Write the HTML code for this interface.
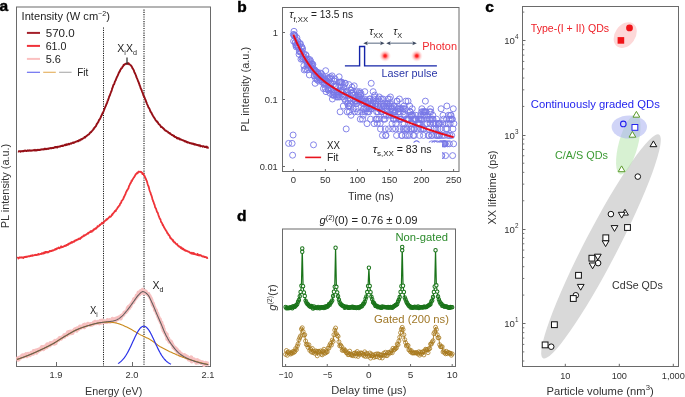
<!DOCTYPE html>
<html><head><meta charset="utf-8"><style>
html,body{margin:0;padding:0;background:#fff;}
svg{display:block;font-family:"Liberation Sans", sans-serif;will-change:transform;}
</style></head><body>
<svg width="685" height="397" viewBox="0 0 685 397">
<rect width="685" height="397" fill="#fff"/>
<text x="-0.5" y="11.2" font-size="15.5" fill="#000" font-weight="bold" stroke="#000" stroke-width="0.45">a</text>
<text x="237.2" y="11.6" font-size="15.5" fill="#000" font-weight="bold" stroke="#000" stroke-width="0.45">b</text>
<text x="485.2" y="11.5" font-size="15.5" fill="#000" font-weight="bold" stroke="#000" stroke-width="0.45">c</text>
<text x="237" y="221.2" font-size="15.5" fill="#000" font-weight="bold" stroke="#000" stroke-width="0.45">d</text>
<rect x="16.5" y="7" width="194" height="359.5" fill="none" stroke="#6a6a6a" stroke-width="1"/>
<line x1="103.5" y1="27.5" x2="103.5" y2="366" stroke="#111" stroke-width="1" stroke-dasharray="1.15,1.15"/>
<line x1="144" y1="9.5" x2="144" y2="366" stroke="#111" stroke-width="1.1" stroke-dasharray="1.15,1.15"/>
<line x1="56.5" y1="366" x2="56.5" y2="362" stroke="#6a6a6a" stroke-width="1"/>
<line x1="132.5" y1="366" x2="132.5" y2="362" stroke="#6a6a6a" stroke-width="1"/>
<text x="56" y="378.3" font-size="9.3" fill="#333" text-anchor="middle" >1.9</text>
<text x="132" y="378.3" font-size="9.3" fill="#333" text-anchor="middle" >2.0</text>
<text x="208" y="378.3" font-size="9.3" fill="#333" text-anchor="middle" >2.1</text>
<text x="85" y="394.7" font-size="10" fill="#333" textLength="57.3" lengthAdjust="spacingAndGlyphs" >Energy (eV)</text>
<text transform="translate(8.7,186) rotate(-90)" font-size="10" fill="#333" text-anchor="middle" textLength="84.4" lengthAdjust="spacingAndGlyphs">PL intensity (a.u.)</text>
<text x="21.6" y="19.5" font-size="10.3" fill="#222" textLength="88.3" lengthAdjust="spacingAndGlyphs" >Intensity (W cm<tspan font-size="6.5" dy="-3.5">−2</tspan><tspan dy="3.5">)</tspan></text>
<line x1="26.9" y1="32.9" x2="40" y2="32.9" stroke="#a4202a" stroke-width="2"/>
<line x1="26.9" y1="45.9" x2="40" y2="45.9" stroke="#f0323a" stroke-width="2"/>
<line x1="26.9" y1="58.9" x2="40" y2="58.9" stroke="#fbc0c0" stroke-width="2"/>
<text x="45.7" y="36.7" font-size="10.3" fill="#222" textLength="29" lengthAdjust="spacingAndGlyphs" >570.0</text>
<text x="45.7" y="49.8" font-size="10.3" fill="#222" textLength="20.7" lengthAdjust="spacingAndGlyphs" >61.0</text>
<text x="45.7" y="62.8" font-size="10.3" fill="#222" textLength="15.3" lengthAdjust="spacingAndGlyphs" >5.6</text>
<line x1="26.9" y1="72.3" x2="40" y2="72.3" stroke="#6c70f0" stroke-width="1.2"/>
<line x1="43.2" y1="72.3" x2="55.8" y2="72.3" stroke="#e6b466" stroke-width="1.2"/>
<line x1="59.1" y1="72.3" x2="71.6" y2="72.3" stroke="#b2b2b2" stroke-width="1.2"/>
<text x="77.2" y="76.2" font-size="10.3" fill="#222" textLength="11.1" lengthAdjust="spacingAndGlyphs" >Fit</text>
<path d="M17.9,151.48 L18.28,151.53 L18.66,151.36 L19.05,151.19 L19.43,151.27 L19.81,151.12 L20.19,151.36 L20.57,151.65 L20.95,151.17 L21.34,151.11 L21.72,151.37 L22.1,151.31 L22.48,151.22 L22.86,150.94 L23.24,151.14 L23.63,151.3 L24.01,150.76 L24.39,150.96 L24.77,150.57 L25.15,150.7 L25.54,150.53 L25.92,150.91 L26.3,150.62 L26.68,150.98 L27.06,150.93 L27.44,150.81 L27.83,150.2 L28.21,150.67 L28.59,150.76 L28.97,150.77 L29.35,150.33 L29.73,150.57 L30.12,150.41 L30.5,150.42 L30.88,150.86 L31.26,150.36 L31.64,150.52 L32.03,150.72 L32.41,150.32 L32.79,150.41 L33.17,150.43 L33.55,150.38 L33.93,150.03 L34.32,150.32 L34.7,150.6 L35.08,149.84 L35.46,150.41 L35.84,150.18 L36.22,149.96 L36.61,150.58 L36.99,150.23 L37.37,149.7 L37.75,149.98 L38.13,150.07 L38.52,149.83 L38.9,150.01 L39.28,149.78 L39.66,149.92 L40.04,150.07 L40.42,149.5 L40.81,149.68 L41.19,149.47 L41.57,149.57 L41.95,149.19 L42.33,149.3 L42.71,149.35 L43.1,149.57 L43.48,149.59 L43.86,148.92 L44.24,149 L44.62,149.31 L45.01,148.6 L45.39,148.93 L45.77,148.97 L46.15,149.26 L46.53,149.06 L46.91,148.75 L47.3,148.69 L47.68,148.66 L48.06,149.04 L48.44,148.5 L48.82,148.47 L49.2,148.58 L49.59,148.4 L49.97,148.32 L50.35,148.03 L50.73,148.24 L51.11,148.07 L51.5,148.4 L51.88,148.21 L52.26,147.97 L52.64,148.08 L53.02,147.76 L53.4,148.04 L53.79,147.71 L54.17,147.78 L54.55,147.24 L54.93,147.58 L55.31,147 L55.69,146.84 L56.08,147.19 L56.46,146.97 L56.84,147.16 L57.22,147.6 L57.6,146.75 L57.99,146.72 L58.37,146.85 L58.75,146.84 L59.13,146.59 L59.51,146.49 L59.89,146.64 L60.28,146.5 L60.66,146.03 L61.04,146.18 L61.42,146.12 L61.8,145.75 L62.18,145.99 L62.57,145.62 L62.95,145.98 L63.33,145.69 L63.71,145.57 L64.09,145.3 L64.48,145.32 L64.86,144.75 L65.24,144.87 L65.62,145.14 L66,144.41 L66.38,145.05 L66.77,144.3 L67.15,144.82 L67.53,144.31 L67.91,144.61 L68.29,144.33 L68.67,143.8 L69.06,144.39 L69.44,144.32 L69.82,143.83 L70.2,143.66 L70.58,143.57 L70.97,143.25 L71.35,143.65 L71.73,143.11 L72.11,143.11 L72.49,142.8 L72.87,142.72 L73.26,142.43 L73.64,142.93 L74.02,142.45 L74.4,142.6 L74.78,142.23 L75.16,141.92 L75.55,141.87 L75.93,141.67 L76.31,141.67 L76.69,141.43 L77.07,141.3 L77.46,140.87 L77.84,140.86 L78.22,141.32 L78.6,140.57 L78.98,140.31 L79.36,140.48 L79.75,140.57 L80.13,139.68 L80.51,139.8 L80.89,139.5 L81.27,139.02 L81.65,139.44 L82.04,139.04 L82.42,138.85 L82.8,138.43 L83.18,138.5 L83.56,138.02 L83.95,137.87 L84.33,137.38 L84.71,137.1 L85.09,137.48 L85.47,136.74 L85.85,136.67 L86.24,136.3 L86.62,135.9 L87,135.58 L87.38,135.55 L87.76,135 L88.14,134.7 L88.53,134.41 L88.91,134.35 L89.29,133.86 L89.67,133.42 L90.05,132.8 L90.44,132.21 L90.82,132.39 L91.2,131.98 L91.58,131.28 L91.96,131.02 L92.34,130.64 L92.73,130.19 L93.11,129.75 L93.49,128.92 L93.87,128.92 L94.25,127.72 L94.63,127.73 L95.02,127.11 L95.4,126.66 L95.78,126.36 L96.16,125.69 L96.54,124.44 L96.93,123.71 L97.31,123.72 L97.69,122.64 L98.07,122.25 L98.45,121.8 L98.83,120.51 L99.22,119.71 L99.6,119.6 L99.98,118.83 L100.36,118.02 L100.74,117.34 L101.12,116.35 L101.51,115.41 L101.89,114.94 L102.27,113.93 L102.65,112.93 L103.03,112.62 L103.42,111.61 L103.8,110.84 L104.18,109.59 L104.56,108.76 L104.94,107.74 L105.32,106.82 L105.71,106.14 L106.09,104.93 L106.47,104.23 L106.85,103.24 L107.23,102.67 L107.61,100.81 L108,100.37 L108.38,99.11 L108.76,98.11 L109.14,96.73 L109.52,95.95 L109.91,95.23 L110.29,93.99 L110.67,93.01 L111.05,91.89 L111.43,91.23 L111.81,89.91 L112.2,88.35 L112.58,87.72 L112.96,86.4 L113.34,85.09 L113.72,84.78 L114.1,84.27 L114.49,82.98 L114.87,81.72 L115.25,80.83 L115.63,80.42 L116.01,79.26 L116.39,78.34 L116.78,77.43 L117.16,76.58 L117.54,75.93 L117.92,75.04 L118.3,74.15 L118.69,73.04 L119.07,72.67 L119.45,71.63 L119.83,71.36 L120.21,70.07 L120.59,69.69 L120.98,69.09 L121.36,68.15 L121.74,68.33 L122.12,67.71 L122.5,66.72 L122.88,66.54 L123.27,65.99 L123.65,64.82 L124.03,65.15 L124.41,64.73 L124.79,64.45 L125.18,63.89 L125.56,63.86 L125.94,63.69 L126.32,63.89 L126.7,63.57 L127.08,63.42 L127.47,63.79 L127.85,63.29 L128.23,63.41 L128.61,63.18 L128.99,64.2 L129.37,64.27 L129.76,64.54 L130.14,64.8 L130.52,65.04 L130.9,65.5 L131.28,65.88 L131.67,66.44 L132.05,67.11 L132.43,68.13 L132.81,68.61 L133.19,69.21 L133.57,69.88 L133.96,70.71 L134.34,72.13 L134.72,72.76 L135.1,73.57 L135.48,74.41 L135.86,75.18 L136.25,76.4 L136.63,77.61 L137.01,78.27 L137.39,79.29 L137.77,80.28 L138.16,81.35 L138.54,81.92 L138.92,83.25 L139.3,84.09 L139.68,85.52 L140.06,86.1 L140.45,87.43 L140.83,88.66 L141.21,89.19 L141.59,90.1 L141.97,91.29 L142.35,92.22 L142.74,92.95 L143.12,94.29 L143.5,95.64 L143.88,96.04 L144.26,97 L144.65,97.74 L145.03,99.02 L145.41,99.56 L145.79,100.52 L146.17,102.03 L146.55,102.39 L146.94,103.78 L147.32,104.77 L147.7,105.32 L148.08,106.26 L148.46,107.45 L148.84,107.74 L149.23,108.46 L149.61,109.07 L149.99,110.21 L150.37,111.34 L150.75,111.96 L151.14,112.22 L151.52,112.97 L151.9,113.76 L152.28,114.64 L152.66,115.18 L153.04,115.94 L153.43,116.6 L153.81,117.07 L154.19,117.74 L154.57,118.39 L154.95,118.9 L155.33,119.6 L155.72,120.49 L156.1,120.71 L156.48,121.09 L156.86,121.17 L157.24,122.18 L157.63,122.08 L158.01,122.68 L158.39,123.71 L158.77,124.12 L159.15,124.34 L159.53,124.38 L159.92,125.13 L160.3,125.46 L160.68,126.19 L161.06,126.98 L161.44,126.85 L161.82,126.97 L162.21,127.23 L162.59,127.86 L162.97,128.18 L163.35,128.27 L163.73,128.92 L164.12,128.93 L164.5,129.81 L164.88,130.11 L165.26,130.43 L165.64,130.34 L166.02,130.88 L166.41,131.01 L166.79,131.24 L167.17,131.53 L167.55,131.57 L167.93,131.81 L168.31,132.65 L168.7,132.67 L169.08,133.04 L169.46,133.49 L169.84,133.07 L170.22,133.56 L170.61,134.05 L170.99,134.35 L171.37,134.41 L171.75,135 L172.13,135.03 L172.51,134.91 L172.9,135.21 L173.28,135.88 L173.66,136.02 L174.04,135.65 L174.42,136.68 L174.8,136.7 L175.19,137.1 L175.57,136.88 L175.95,137.11 L176.33,137.11 L176.71,138.22 L177.1,137.74 L177.48,138.38 L177.86,138.01 L178.24,138.4 L178.62,138.13 L179,138.64 L179.39,139.16 L179.77,138.78 L180.15,139.54 L180.53,139.53 L180.91,139.35 L181.29,139.66 L181.68,139.83 L182.06,140.1 L182.44,140.14 L182.82,140.23 L183.2,140.51 L183.59,140.49 L183.97,140.57 L184.35,141.04 L184.73,141.42 L185.11,140.96 L185.49,141.49 L185.88,141.46 L186.26,141.52 L186.64,142.12 L187.02,141.91 L187.4,142.55 L187.78,142.11 L188.17,142.53 L188.55,142.51 L188.93,142.5 L189.31,142.96 L189.69,142.9 L190.08,143.21 L190.46,143.17 L190.84,143.02 L191.22,143.39 L191.6,143.54 L191.98,143.88 L192.37,143.53 L192.75,143.85 L193.13,143.54 L193.51,144.24 L193.89,143.92 L194.27,143.84 L194.66,144.38 L195.04,144.78 L195.42,144.22 L195.8,144.43 L196.18,144.61 L196.57,144.62 L196.95,145.09 L197.33,144.89 L197.71,145.01 L198.09,145.43 L198.47,145.19 L198.86,145.58 L199.24,145.32 L199.62,145.35 L200,145.28 L200.38,146.3 L200.76,145.84 L201.15,146.07 L201.53,146.09 L201.91,146.22 L202.29,146.28 L202.67,146.83 L203.06,146.18 L203.44,146.14 L203.82,146.36 L204.2,146.36 L204.58,146.97 L204.96,147.07 L205.35,146.71 L205.73,146.68 L206.11,147.02 L206.49,147.54 L206.87,146.57 L207.25,147.49 L207.64,147.17 L208.02,147.79 L208.4,147.34" fill="none" stroke="#960f16" stroke-width="1.9" stroke-linejoin="round"/>
<line x1="127" y1="57.4" x2="127" y2="64.5" stroke="#2a2a2a" stroke-width="1.2"/>
<text x="117.3" y="51.7" font-size="10.3" fill="#222" textLength="19.6" lengthAdjust="spacingAndGlyphs" >X<tspan font-size="7" dy="3.2">i</tspan><tspan dy="-3.2">X</tspan><tspan font-size="7" dy="3.2">d</tspan></text>
<path d="M17.3,258.04 L17.68,257.56 L18.06,257.71 L18.45,258.49 L18.83,258.24 L19.21,257.77 L19.59,257.56 L19.97,257.15 L20.35,257.63 L20.74,257.7 L21.12,257.63 L21.5,257.58 L21.88,257.17 L22.26,257.48 L22.64,257.44 L23.03,257.85 L23.41,258 L23.79,257.24 L24.17,256.96 L24.55,257.15 L24.94,256.9 L25.32,256.79 L25.7,256.97 L26.08,256.57 L26.46,257.08 L26.84,256.77 L27.23,256.83 L27.61,256.61 L27.99,256.36 L28.37,256.21 L28.75,256.39 L29.13,256.22 L29.52,256.42 L29.9,256.27 L30.28,255.72 L30.66,256.15 L31.04,255.58 L31.43,255.76 L31.81,255.8 L32.19,255.1 L32.57,255.79 L32.95,255.73 L33.33,255.54 L33.72,255.37 L34.1,255.31 L34.48,255.02 L34.86,255.18 L35.24,255 L35.62,255.14 L36.01,254.61 L36.39,255.02 L36.77,254.91 L37.15,254.72 L37.53,254.53 L37.92,254.78 L38.3,253.92 L38.68,254.57 L39.06,254.4 L39.44,254.32 L39.82,254.26 L40.21,253.81 L40.59,253.85 L40.97,254.06 L41.35,253.89 L41.73,253.72 L42.11,253.02 L42.5,253.63 L42.88,253.75 L43.26,253.59 L43.64,253.22 L44.02,252.49 L44.41,253.26 L44.79,252.77 L45.17,251.82 L45.55,252.73 L45.93,251.97 L46.31,251.93 L46.7,252.05 L47.08,252.6 L47.46,251.91 L47.84,252.02 L48.22,252.42 L48.6,252.25 L48.99,251.54 L49.37,251.37 L49.75,250.9 L50.13,250.97 L50.51,251.24 L50.9,251.11 L51.28,250.88 L51.66,251.07 L52.04,250.32 L52.42,250.45 L52.8,250.59 L53.19,250.41 L53.57,250.45 L53.95,250.08 L54.33,249.7 L54.71,249.8 L55.09,249.19 L55.48,248.83 L55.86,249.47 L56.24,249.11 L56.62,249.1 L57,248.25 L57.39,248.58 L57.77,248.35 L58.15,248.12 L58.53,247.48 L58.91,248.01 L59.29,248.29 L59.68,247.96 L60.06,247.47 L60.44,247.52 L60.82,247.64 L61.2,246.26 L61.58,247.03 L61.97,247.1 L62.35,247 L62.73,247.19 L63.11,246.84 L63.49,246.39 L63.88,246.22 L64.26,246.23 L64.64,245.6 L65.02,245.61 L65.4,245.78 L65.78,245.98 L66.17,245.07 L66.55,244.94 L66.93,244.85 L67.31,245.08 L67.69,244.43 L68.07,244.78 L68.46,243.75 L68.84,243.85 L69.22,243.66 L69.6,243.83 L69.98,243.74 L70.37,242.66 L70.75,242.69 L71.13,242.94 L71.51,242.41 L71.89,241.92 L72.27,242.63 L72.66,242.25 L73.04,242.05 L73.42,241.52 L73.8,241.86 L74.18,241.22 L74.56,241.49 L74.95,240.59 L75.33,240.41 L75.71,240.58 L76.09,240.07 L76.47,240.35 L76.86,240 L77.24,239.38 L77.62,239.52 L78,239.16 L78.38,239.4 L78.76,238.65 L79.15,238.5 L79.53,238.87 L79.91,239.02 L80.29,238.72 L80.67,237.82 L81.05,237.66 L81.44,237.9 L81.82,237.1 L82.2,236.58 L82.58,236.74 L82.96,236.63 L83.35,235.96 L83.73,235.44 L84.11,235.29 L84.49,235.79 L84.87,235.07 L85.25,235.05 L85.64,234.94 L86.02,234.85 L86.4,234.27 L86.78,234.33 L87.16,233.6 L87.54,233.55 L87.93,233.07 L88.31,233.58 L88.69,232.93 L89.07,232.44 L89.45,232.33 L89.84,232.12 L90.22,232.19 L90.6,231.14 L90.98,231.08 L91.36,231.06 L91.74,231.82 L92.13,231.01 L92.51,230.38 L92.89,230.4 L93.27,230.61 L93.65,229.55 L94.03,229.24 L94.42,229.52 L94.8,229 L95.18,228.8 L95.56,228.11 L95.94,228.69 L96.33,228.34 L96.71,227.67 L97.09,227.43 L97.47,226.21 L97.85,226.86 L98.23,226.29 L98.62,226.22 L99,226.03 L99.38,225.38 L99.76,224.63 L100.14,225.06 L100.52,224.38 L100.91,224.23 L101.29,223.84 L101.67,223.64 L102.05,222.66 L102.43,223.59 L102.82,222.96 L103.2,222.96 L103.58,222.96 L103.96,221.97 L104.34,221.03 L104.72,221.04 L105.11,220.62 L105.49,220.55 L105.87,220.44 L106.25,219.39 L106.63,219.89 L107.01,218.91 L107.4,219.21 L107.78,218.74 L108.16,218.33 L108.54,218.07 L108.92,217.55 L109.31,217.17 L109.69,216.44 L110.07,216.65 L110.45,216.94 L110.83,216.61 L111.21,215.99 L111.6,215.38 L111.98,214.5 L112.36,214.84 L112.74,213.9 L113.12,213.47 L113.5,212.96 L113.89,212.66 L114.27,212.03 L114.65,211.7 L115.03,210.88 L115.41,210.66 L115.79,211.1 L116.18,209.79 L116.56,209.22 L116.94,208.98 L117.32,208.52 L117.7,207.34 L118.09,207.11 L118.47,206.95 L118.85,206.15 L119.23,205.52 L119.61,205.43 L119.99,204.04 L120.38,203.69 L120.76,202.84 L121.14,202.9 L121.52,201.04 L121.9,200.81 L122.28,200.17 L122.67,199.89 L123.05,199.16 L123.43,198.7 L123.81,196.92 L124.19,196.97 L124.58,195.83 L124.96,194.92 L125.34,194.55 L125.72,193.24 L126.1,192.02 L126.48,191.81 L126.87,190.6 L127.25,190.07 L127.63,189.61 L128.01,188.77 L128.39,188.4 L128.77,186.96 L129.16,185.68 L129.54,185.16 L129.92,184.31 L130.3,183.42 L130.68,183.22 L131.07,182.09 L131.45,180.88 L131.83,181.08 L132.21,180.09 L132.59,179.56 L132.97,178.8 L133.36,178.33 L133.74,177.5 L134.12,177.31 L134.5,176.45 L134.88,175.89 L135.26,175.38 L135.65,174.24 L136.03,174.24 L136.41,173.78 L136.79,173.56 L137.17,172.66 L137.56,173.4 L137.94,172.59 L138.32,171.9 L138.7,171.55 L139.08,171.91 L139.46,171.89 L139.85,171.63 L140.23,171.92 L140.61,171.73 L140.99,172.27 L141.37,172 L141.75,172.48 L142.14,173.14 L142.52,174.06 L142.9,173.24 L143.28,173.92 L143.66,174.36 L144.05,175.56 L144.43,175.6 L144.81,176.6 L145.19,177.59 L145.57,178.15 L145.95,179.1 L146.34,180.26 L146.72,180.72 L147.1,182.02 L147.48,183.48 L147.86,184.81 L148.24,185.84 L148.63,186.46 L149.01,188.11 L149.39,189.74 L149.77,190.86 L150.15,191.83 L150.54,192.75 L150.92,194.46 L151.3,195.21 L151.68,196.17 L152.06,197.45 L152.44,199.37 L152.83,200.07 L153.21,201.51 L153.59,202.04 L153.97,203.62 L154.35,204.16 L154.73,205.38 L155.12,207.36 L155.5,207.79 L155.88,208.37 L156.26,209.53 L156.64,210.67 L157.03,211.96 L157.41,212.34 L157.79,212.86 L158.17,214.31 L158.55,215.35 L158.93,216.29 L159.32,217.62 L159.7,218.15 L160.08,219.2 L160.46,219.39 L160.84,220.92 L161.22,222.18 L161.61,222.53 L161.99,223.15 L162.37,223.89 L162.75,225.24 L163.13,225.04 L163.52,226.07 L163.9,227 L164.28,227.81 L164.66,228.1 L165.04,229.05 L165.42,229.52 L165.81,230.32 L166.19,230.88 L166.57,231.16 L166.95,232.18 L167.33,233.1 L167.71,233.06 L168.1,233.9 L168.48,234.79 L168.86,234.75 L169.24,235.74 L169.62,235.84 L170.01,237.14 L170.39,238.07 L170.77,238.47 L171.15,238.18 L171.53,239 L171.91,239.26 L172.3,239.71 L172.68,240.67 L173.06,240.11 L173.44,241.38 L173.82,241.41 L174.2,242.34 L174.59,242.31 L174.97,242.41 L175.35,243.12 L175.73,243.66 L176.11,243.78 L176.5,244.3 L176.88,244.29 L177.26,244.07 L177.64,245.47 L178.02,245.72 L178.4,245.84 L178.79,246.12 L179.17,246.76 L179.55,246.53 L179.93,246.73 L180.31,247.19 L180.69,247.95 L181.08,247.31 L181.46,248.47 L181.84,248.08 L182.22,248.16 L182.6,249.23 L182.99,248.98 L183.37,248.79 L183.75,249.34 L184.13,250 L184.51,250.3 L184.89,249.94 L185.28,250.43 L185.66,250.73 L186.04,250.44 L186.42,250.97 L186.8,251.02 L187.18,251.01 L187.57,251.2 L187.95,251.56 L188.33,251.71 L188.71,251.65 L189.09,251.86 L189.48,252.54 L189.86,252.38 L190.24,252.75 L190.62,253 L191,252.92 L191.38,253.65 L191.77,252.69 L192.15,253.39 L192.53,253.12 L192.91,254.01 L193.29,254.08 L193.67,252.92 L194.06,253.38 L194.44,254.07 L194.82,254.22 L195.2,254.32 L195.58,254.15 L195.97,254.44 L196.35,254.62 L196.73,254.47 L197.11,254.97 L197.49,253.93 L197.87,255.05 L198.26,254.57 L198.64,255.37 L199.02,255.07 L199.4,254.94 L199.78,255.49 L200.16,255.15 L200.55,255.26 L200.93,255.14 L201.31,255.79 L201.69,256.09 L202.07,256.39 L202.46,256.1 L202.84,256.63 L203.22,256.39 L203.6,256.47 L203.98,256.83 L204.36,257.12 L204.75,256.76 L205.13,256.92 L205.51,257.09 L205.89,257.31 L206.27,257.1 L206.65,257.92 L207.04,257.57 L207.42,258.02 L207.8,257.72" fill="none" stroke="#ef3338" stroke-width="1.8" stroke-linejoin="round"/>
<path d="M17,358.97 L17.38,358.87 L17.77,358.14 L18.15,359.84 L18.53,358.48 L18.92,359.4 L19.3,358.66 L19.68,357.31 L20.07,357.39 L20.45,357.87 L20.83,357.46 L21.21,357.32 L21.6,356.93 L21.98,355.65 L22.36,356.7 L22.75,355.07 L23.13,356.87 L23.51,355.91 L23.9,355.77 L24.28,356 L24.66,356.23 L25.05,354.81 L25.43,354.43 L25.81,354.79 L26.2,353.91 L26.58,354.57 L26.96,356.34 L27.35,354.21 L27.73,355.34 L28.11,353.67 L28.49,354.77 L28.88,354.15 L29.26,354.19 L29.64,354.51 L30.03,355.24 L30.41,353.91 L30.79,353.7 L31.18,352.71 L31.56,353.72 L31.94,352.93 L32.33,353.57 L32.71,352.75 L33.09,353.92 L33.48,350.96 L33.86,352.06 L34.24,352.78 L34.63,351.68 L35.01,351.18 L35.39,351.4 L35.78,350.4 L36.16,351.35 L36.54,352.91 L36.92,351.77 L37.31,349.9 L37.69,349.91 L38.07,350.08 L38.46,350.96 L38.84,349.42 L39.22,349.34 L39.61,350.34 L39.99,350.15 L40.37,349.04 L40.76,348.3 L41.14,347.8 L41.52,348.26 L41.91,346.93 L42.29,348.98 L42.67,347.77 L43.06,348.42 L43.44,349.28 L43.82,348.57 L44.2,346.64 L44.59,347.97 L44.97,348 L45.35,346.39 L45.74,346.05 L46.12,346.49 L46.5,345.18 L46.89,347.3 L47.27,344.2 L47.65,344.98 L48.04,345.42 L48.42,345.25 L48.8,345.35 L49.19,345.23 L49.57,344.67 L49.95,345.48 L50.34,342.83 L50.72,344.23 L51.1,343.49 L51.48,343.92 L51.87,343.78 L52.25,342.72 L52.63,342.71 L53.02,343.57 L53.4,343.02 L53.78,342.03 L54.17,343.85 L54.55,343.82 L54.93,340.77 L55.32,341.86 L55.7,343.28 L56.08,341.75 L56.47,341.09 L56.85,340.52 L57.23,340.03 L57.62,340.03 L58,339.53 L58.38,340.26 L58.77,339.15 L59.15,338.87 L59.53,338.06 L59.91,338.67 L60.3,337.79 L60.68,338.08 L61.06,338.75 L61.45,338 L61.83,337.86 L62.21,337.5 L62.6,337.04 L62.98,336.66 L63.36,336.29 L63.75,336.85 L64.13,335.24 L64.51,336.83 L64.9,335.62 L65.28,334.81 L65.66,334.78 L66.05,334.42 L66.43,334.82 L66.81,333.94 L67.19,335.11 L67.58,333.45 L67.96,332.1 L68.34,333.03 L68.73,331.85 L69.11,333.11 L69.49,333.71 L69.88,333.18 L70.26,331.47 L70.64,331.68 L71.03,333.36 L71.41,332.05 L71.79,331.6 L72.18,332.18 L72.56,333.01 L72.94,331.94 L73.33,330.86 L73.71,330.82 L74.09,330.81 L74.47,329.69 L74.86,329.16 L75.24,329.81 L75.62,328.87 L76.01,329.35 L76.39,329.28 L76.77,330.79 L77.16,328.23 L77.54,328.6 L77.92,328.41 L78.31,328.7 L78.69,329 L79.07,327.69 L79.46,327.29 L79.84,326.53 L80.22,326.92 L80.61,327.87 L80.99,327.36 L81.37,326.42 L81.76,326.76 L82.14,326.93 L82.52,327.15 L82.9,326.19 L83.29,326.32 L83.67,325.01 L84.05,325.38 L84.44,327.33 L84.82,324.35 L85.2,325.62 L85.59,325.91 L85.97,325.34 L86.35,324.9 L86.74,325.34 L87.12,325.26 L87.5,325.09 L87.89,323.62 L88.27,324.8 L88.65,324.16 L89.04,324.27 L89.42,324.74 L89.8,324.94 L90.18,325.02 L90.57,323.86 L90.95,324.81 L91.33,324.89 L91.72,324.75 L92.1,324.82 L92.48,323.56 L92.87,323.43 L93.25,324.07 L93.63,322.32 L94.02,323.4 L94.4,322.74 L94.78,322.76 L95.17,321.63 L95.55,322.18 L95.93,322.74 L96.32,323.33 L96.7,323.32 L97.08,322.44 L97.46,322.28 L97.85,321.73 L98.23,322.59 L98.61,322.03 L99,322.61 L99.38,323.4 L99.76,322.01 L100.15,320.85 L100.53,321.27 L100.91,320.76 L101.3,320.91 L101.68,322.73 L102.06,321.87 L102.45,320.51 L102.83,322.09 L103.21,322.49 L103.6,321.23 L103.98,320.94 L104.36,321.14 L104.75,321.56 L105.13,321.78 L105.51,322.13 L105.89,322.11 L106.28,322.05 L106.66,322.14 L107.04,321.58 L107.43,319.89 L107.81,320.91 L108.19,321.2 L108.58,320.64 L108.96,321.58 L109.34,320.58 L109.73,320.12 L110.11,321.85 L110.49,321.23 L110.88,320.84 L111.26,321.32 L111.64,321.37 L112.03,320.77 L112.41,318.61 L112.79,319.88 L113.17,319.96 L113.56,319.48 L113.94,320.26 L114.32,320.9 L114.71,319.52 L115.09,318.9 L115.47,321.14 L115.86,319.13 L116.24,318.39 L116.62,319.33 L117.01,319.31 L117.39,318.28 L117.77,319.21 L118.16,318.03 L118.54,317.47 L118.92,318.04 L119.31,318.21 L119.69,316.87 L120.07,317.3 L120.45,316.67 L120.84,318.54 L121.22,315.57 L121.6,316.81 L121.99,315.4 L122.37,314.99 L122.75,315.25 L123.14,314.99 L123.52,314.87 L123.9,313.75 L124.29,312.62 L124.67,312.22 L125.05,312.56 L125.44,312.15 L125.82,312.3 L126.2,311.1 L126.59,311.1 L126.97,310.97 L127.35,309.48 L127.74,307.77 L128.12,307.52 L128.5,306.84 L128.88,308.61 L129.27,306.27 L129.65,307.32 L130.03,306.31 L130.42,306.63 L130.8,305.56 L131.18,304.2 L131.57,303.59 L131.95,303.27 L132.33,302.8 L132.72,301.73 L133.1,301.57 L133.48,302.28 L133.87,299.27 L134.25,300.21 L134.63,298.79 L135.02,299.05 L135.4,298.97 L135.78,297.74 L136.16,297.8 L136.55,295.48 L136.93,296.98 L137.31,295.19 L137.7,295.64 L138.08,294.87 L138.46,292.4 L138.85,293.38 L139.23,293.71 L139.61,294.3 L140,292.95 L140.38,292.54 L140.76,290.93 L141.15,292.74 L141.53,292.74 L141.91,291.19 L142.3,290.84 L142.68,289.7 L143.06,291.57 L143.44,292.98 L143.83,291.6 L144.21,292.16 L144.59,291.8 L144.98,290.89 L145.36,292.89 L145.74,291.25 L146.13,292.32 L146.51,293.02 L146.89,293.81 L147.28,293.81 L147.66,294.15 L148.04,293.73 L148.43,293.87 L148.81,295.49 L149.19,295.59 L149.58,295.87 L149.96,296.68 L150.34,298.07 L150.73,297.87 L151.11,299.08 L151.49,299.7 L151.87,301.88 L152.26,302.85 L152.64,304.88 L153.02,303.12 L153.41,304.62 L153.79,306.73 L154.17,306.8 L154.56,307.66 L154.94,310.12 L155.32,309.53 L155.71,309.84 L156.09,310.64 L156.47,312.79 L156.86,313.66 L157.24,313.28 L157.62,314.46 L158.01,316.48 L158.39,317.39 L158.77,317.35 L159.15,319.18 L159.54,320.02 L159.92,319.14 L160.3,321.12 L160.69,322.55 L161.07,322.7 L161.45,322.43 L161.84,324.75 L162.22,326.46 L162.6,328.03 L162.99,326.15 L163.37,330.69 L163.75,328.82 L164.14,331.3 L164.52,332.39 L164.9,333.07 L165.29,333.27 L165.67,333.07 L166.05,335.17 L166.43,334.9 L166.82,334.28 L167.2,339.01 L167.58,338.12 L167.97,339.63 L168.35,338.25 L168.73,340.68 L169.12,341.4 L169.5,341.98 L169.88,341.39 L170.27,341.06 L170.65,342.38 L171.03,341.4 L171.42,342.3 L171.8,344.18 L172.18,343.89 L172.57,345.03 L172.95,345.58 L173.33,347.62 L173.72,347.64 L174.1,347.13 L174.48,348.55 L174.86,347.53 L175.25,348.33 L175.63,349.72 L176.01,348.55 L176.4,349.7 L176.78,349.34 L177.16,350.83 L177.55,352.36 L177.93,350.95 L178.31,352.06 L178.7,351.57 L179.08,351.72 L179.46,351.98 L179.85,354.3 L180.23,355.28 L180.61,354.14 L181,353.51 L181.38,354.83 L181.76,354.31 L182.14,355.41 L182.53,355.27 L182.91,355.5 L183.29,355.98 L183.68,355.32 L184.06,355.67 L184.44,354.9 L184.83,356.07 L185.21,355.55 L185.59,356.71 L185.98,356.3 L186.36,357.29 L186.74,357.74 L187.13,356.52 L187.51,357.16 L187.89,357.24 L188.28,358.68 L188.66,359.57 L189.04,359.09 L189.42,358.35 L189.81,359.87 L190.19,357.79 L190.57,360.21 L190.96,358.74 L191.34,357.29 L191.72,361.5 L192.11,360.84 L192.49,359.02 L192.87,360.05 L193.26,359.89 L193.64,360.26 L194.02,359.2 L194.41,359.93 L194.79,360.91 L195.17,360.86 L195.56,361.71 L195.94,360.99 L196.32,362.82 L196.71,360.64 L197.09,361.49 L197.47,359.98 L197.85,360.59 L198.24,362.64 L198.62,361.05 L199,362.26 L199.39,361.93 L199.77,361.3 L200.15,361.92 L200.54,361.9 L200.92,362.02 L201.3,363.05 L201.69,363.07 L202.07,362.24 L202.45,362.09 L202.84,363.07 L203.22,362.87 L203.6,363.8 L203.99,365.1 L204.37,363.82 L204.75,363.24 L205.13,363.21 L205.52,362.76 L205.9,362.79 L206.28,362.78 L206.67,363.3 L207.05,363.33 L207.43,364.26 L207.82,363.45 L208.2,363.65" fill="none" stroke="#f7c0c0" stroke-width="3.8" stroke-linejoin="round"/>
<path d="M17,359.4 L17.48,359.24 L17.96,359.09 L18.44,358.93 L18.92,358.77 L19.4,358.61 L19.88,358.44 L20.35,358.28 L20.83,358.11 L21.31,357.94 L21.79,357.77 L22.27,357.6 L22.75,357.43 L23.23,357.26 L23.71,357.08 L24.19,356.9 L24.67,356.72 L25.15,356.54 L25.63,356.36 L26.1,356.18 L26.58,356 L27.06,355.81 L27.54,355.62 L28.02,355.43 L28.5,355.24 L28.98,355.05 L29.46,354.85 L29.94,354.66 L30.42,354.46 L30.9,354.26 L31.38,354.06 L31.86,353.85 L32.33,353.65 L32.81,353.44 L33.29,353.23 L33.77,353.02 L34.25,352.81 L34.73,352.6 L35.21,352.38 L35.69,352.17 L36.17,351.95 L36.65,351.74 L37.13,351.52 L37.61,351.3 L38.08,351.08 L38.56,350.86 L39.04,350.64 L39.52,350.42 L40,350.19 L40.48,349.97 L40.96,349.75 L41.44,349.52 L41.92,349.3 L42.4,349.07 L42.88,348.84 L43.36,348.61 L43.84,348.38 L44.31,348.15 L44.79,347.92 L45.27,347.69 L45.75,347.46 L46.23,347.22 L46.71,346.98 L47.19,346.74 L47.67,346.5 L48.15,346.26 L48.63,346.02 L49.11,345.77 L49.59,345.52 L50.06,345.27 L50.54,345.02 L51.02,344.77 L51.5,344.51 L51.98,344.25 L52.46,343.99 L52.94,343.72 L53.42,343.45 L53.9,343.18 L54.38,342.9 L54.86,342.61 L55.34,342.32 L55.82,342.03 L56.29,341.73 L56.77,341.43 L57.25,341.12 L57.73,340.82 L58.21,340.51 L58.69,340.2 L59.17,339.89 L59.65,339.58 L60.13,339.27 L60.61,338.96 L61.09,338.66 L61.57,338.35 L62.04,338.04 L62.52,337.74 L63,337.44 L63.48,337.15 L63.96,336.85 L64.44,336.56 L64.92,336.28 L65.4,336 L65.88,335.72 L66.36,335.44 L66.84,335.17 L67.32,334.89 L67.79,334.6 L68.27,334.32 L68.75,334.04 L69.23,333.76 L69.71,333.49 L70.19,333.21 L70.67,332.93 L71.15,332.66 L71.63,332.39 L72.11,332.12 L72.59,331.86 L73.07,331.6 L73.55,331.34 L74.02,331.09 L74.5,330.84 L74.98,330.59 L75.46,330.36 L75.94,330.12 L76.42,329.9 L76.9,329.68 L77.38,329.47 L77.86,329.26 L78.34,329.06 L78.82,328.86 L79.3,328.67 L79.77,328.48 L80.25,328.3 L80.73,328.11 L81.21,327.93 L81.69,327.76 L82.17,327.58 L82.65,327.41 L83.13,327.24 L83.61,327.08 L84.09,326.91 L84.57,326.75 L85.05,326.6 L85.53,326.44 L86,326.29 L86.48,326.14 L86.96,325.99 L87.44,325.84 L87.92,325.7 L88.4,325.56 L88.88,325.42 L89.36,325.28 L89.84,325.15 L90.32,325.01 L90.8,324.87 L91.28,324.74 L91.75,324.6 L92.23,324.46 L92.71,324.32 L93.19,324.19 L93.67,324.05 L94.15,323.92 L94.63,323.79 L95.11,323.66 L95.59,323.54 L96.07,323.42 L96.55,323.31 L97.03,323.2 L97.51,323.1 L97.98,323.01 L98.46,322.92 L98.94,322.84 L99.42,322.77 L99.9,322.71 L100.38,322.66 L100.86,322.6 L101.34,322.55 L101.82,322.5 L102.3,322.45 L102.78,322.4 L103.26,322.35 L103.73,322.31 L104.21,322.27 L104.69,322.23 L105.17,322.2 L105.65,322.17 L106.13,322.15 L106.61,322.13 L107.09,322.11 L107.57,322.1 L108.05,322.1 L108.53,322.11 L109.01,322.12 L109.49,322.14 L109.96,322.17 L110.44,322.21 L110.92,322.26 L111.4,322.31 L111.88,322.36 L112.36,322.42 L112.84,322.49 L113.32,322.55 L113.8,322.62 L114.28,322.69 L114.76,322.76 L115.24,322.84 L115.71,322.93 L116.19,323.03 L116.67,323.15 L117.15,323.28 L117.63,323.42 L118.11,323.57 L118.59,323.72 L119.07,323.88 L119.55,324.04 L120.03,324.21 L120.51,324.37 L120.99,324.54 L121.47,324.72 L121.94,324.91 L122.42,325.11 L122.9,325.31 L123.38,325.51 L123.86,325.73 L124.34,325.95 L124.82,326.17 L125.3,326.4 L125.78,326.63 L126.26,326.86 L126.74,327.1 L127.22,327.35 L127.69,327.59 L128.17,327.84 L128.65,328.08 L129.13,328.33 L129.61,328.58 L130.09,328.83 L130.57,329.08 L131.05,329.33 L131.53,329.59 L132.01,329.85 L132.49,330.12 L132.97,330.4 L133.45,330.68 L133.92,330.97 L134.4,331.25 L134.88,331.54 L135.36,331.83 L135.84,332.13 L136.32,332.42 L136.8,332.71 L137.28,333 L137.76,333.28 L138.24,333.56 L138.72,333.84 L139.2,334.11 L139.67,334.38 L140.15,334.64 L140.63,334.89 L141.11,335.13 L141.59,335.37 L142.07,335.61 L142.55,335.84 L143.03,336.07 L143.51,336.3 L143.99,336.52 L144.47,336.74 L144.95,336.97 L145.43,337.19 L145.9,337.42 L146.38,337.65 L146.86,337.88 L147.34,338.11 L147.82,338.35 L148.3,338.59 L148.78,338.84 L149.26,339.1 L149.74,339.36 L150.22,339.64 L150.7,339.92 L151.18,340.21 L151.65,340.52 L152.13,340.84 L152.61,341.18 L153.09,341.52 L153.57,341.87 L154.05,342.23 L154.53,342.59 L155.01,342.96 L155.49,343.33 L155.97,343.69 L156.45,344.06 L156.93,344.42 L157.41,344.78 L157.88,345.13 L158.36,345.47 L158.84,345.8 L159.32,346.13 L159.8,346.43 L160.28,346.73 L160.76,347.01 L161.24,347.29 L161.72,347.56 L162.2,347.83 L162.68,348.09 L163.16,348.35 L163.63,348.61 L164.11,348.86 L164.59,349.11 L165.07,349.36 L165.55,349.6 L166.03,349.84 L166.51,350.08 L166.99,350.32 L167.47,350.55 L167.95,350.78 L168.43,351.01 L168.91,351.23 L169.38,351.46 L169.86,351.68 L170.34,351.9 L170.82,352.12 L171.3,352.34 L171.78,352.55 L172.26,352.77 L172.74,352.98 L173.22,353.2 L173.7,353.41 L174.18,353.62 L174.66,353.84 L175.14,354.05 L175.61,354.26 L176.09,354.47 L176.57,354.67 L177.05,354.88 L177.53,355.09 L178.01,355.29 L178.49,355.49 L178.97,355.69 L179.45,355.89 L179.93,356.08 L180.41,356.27 L180.89,356.47 L181.36,356.65 L181.84,356.84 L182.32,357.02 L182.8,357.2 L183.28,357.38 L183.76,357.56 L184.24,357.73 L184.72,357.9 L185.2,358.06 L185.68,358.23 L186.16,358.39 L186.64,358.55 L187.12,358.71 L187.59,358.86 L188.07,359.02 L188.55,359.18 L189.03,359.33 L189.51,359.49 L189.99,359.64 L190.47,359.8 L190.95,359.95 L191.43,360.1 L191.91,360.25 L192.39,360.4 L192.87,360.55 L193.34,360.69 L193.82,360.84 L194.3,360.98 L194.78,361.12 L195.26,361.27 L195.74,361.41 L196.22,361.55 L196.7,361.68 L197.18,361.82 L197.66,361.95 L198.14,362.09 L198.62,362.22 L199.1,362.35 L199.57,362.48 L200.05,362.61 L200.53,362.73 L201.01,362.86 L201.49,362.98 L201.97,363.1 L202.45,363.22 L202.93,363.34 L203.41,363.45 L203.89,363.56 L204.37,363.68 L204.85,363.79 L205.32,363.89 L205.8,364 L206.28,364.1 L206.76,364.21 L207.24,364.31 L207.72,364.4 L208.2,364.5" fill="none" stroke="#c98a1c" stroke-width="1.1"/>
<path d="M118,363.46 L118.45,363.21 L118.89,362.94 L119.34,362.64 L119.78,362.33 L120.23,361.99 L120.67,361.64 L121.12,361.25 L121.56,360.84 L122.01,360.41 L122.45,359.94 L122.9,359.45 L123.34,358.94 L123.79,358.39 L124.24,357.82 L124.68,357.21 L125.13,356.58 L125.57,355.92 L126.02,355.23 L126.46,354.51 L126.91,353.76 L127.35,352.99 L127.8,352.18 L128.24,351.36 L128.69,350.51 L129.13,349.64 L129.58,348.74 L130.03,347.83 L130.47,346.9 L130.92,345.96 L131.36,345 L131.81,344.03 L132.25,343.06 L132.7,342.09 L133.14,341.11 L133.59,340.13 L134.03,339.16 L134.48,338.21 L134.92,337.26 L135.37,336.33 L135.82,335.42 L136.26,334.53 L136.71,333.67 L137.15,332.84 L137.6,332.05 L138.04,331.3 L138.49,330.58 L138.93,329.91 L139.38,329.29 L139.82,328.72 L140.27,328.2 L140.71,327.74 L141.16,327.33 L141.61,326.98 L142.05,326.7 L142.5,326.48 L142.94,326.32 L143.39,326.23 L143.83,326.2 L144.28,326.24 L144.72,326.34 L145.17,326.51 L145.61,326.74 L146.06,327.03 L146.5,327.38 L146.95,327.8 L147.39,328.27 L147.84,328.8 L148.29,329.38 L148.73,330 L149.18,330.68 L149.62,331.4 L150.07,332.16 L150.51,332.96 L150.96,333.79 L151.4,334.66 L151.85,335.55 L152.29,336.46 L152.74,337.39 L153.18,338.34 L153.63,339.3 L154.08,340.27 L154.52,341.25 L154.97,342.23 L155.41,343.2 L155.86,344.17 L156.3,345.14 L156.75,346.09 L157.19,347.03 L157.64,347.96 L158.08,348.87 L158.53,349.76 L158.97,350.63 L159.42,351.48 L159.87,352.3 L160.31,353.1 L160.76,353.87 L161.2,354.61 L161.65,355.33 L162.09,356.01 L162.54,356.67 L162.98,357.3 L163.43,357.9 L163.87,358.47 L164.32,359.01 L164.76,359.53 L165.21,360.01 L165.66,360.47 L166.1,360.9 L166.55,361.31 L166.99,361.69 L167.44,362.04 L167.88,362.38 L168.33,362.69 L168.77,362.98 L169.22,363.24 L169.66,363.49 L170.11,363.72 L170.55,363.93 L171,364.13" fill="none" stroke="#2a32e8" stroke-width="1.2"/>
<path d="M17,359.4 L17.38,359.28 L17.77,359.15 L18.15,359.02 L18.53,358.9 L18.92,358.77 L19.3,358.64 L19.68,358.51 L20.07,358.38 L20.45,358.25 L20.83,358.11 L21.21,357.98 L21.6,357.84 L21.98,357.71 L22.36,357.57 L22.75,357.43 L23.13,357.29 L23.51,357.15 L23.9,357.01 L24.28,356.87 L24.66,356.73 L25.05,356.58 L25.43,356.44 L25.81,356.29 L26.2,356.15 L26.58,356 L26.96,355.85 L27.35,355.7 L27.73,355.55 L28.11,355.4 L28.49,355.25 L28.88,355.09 L29.26,354.94 L29.64,354.78 L30.03,354.62 L30.41,354.46 L30.79,354.3 L31.18,354.14 L31.56,353.98 L31.94,353.82 L32.33,353.65 L32.71,353.49 L33.09,353.32 L33.48,353.15 L33.86,352.98 L34.24,352.81 L34.63,352.64 L35.01,352.47 L35.39,352.3 L35.78,352.13 L36.16,351.96 L36.54,351.78 L36.92,351.61 L37.31,351.44 L37.69,351.26 L38.07,351.08 L38.46,350.91 L38.84,350.73 L39.22,350.55 L39.61,350.38 L39.99,350.2 L40.37,350.02 L40.76,349.84 L41.14,349.66 L41.52,349.48 L41.91,349.3 L42.29,349.12 L42.67,348.94 L43.06,348.76 L43.44,348.57 L43.82,348.39 L44.2,348.21 L44.59,348.02 L44.97,347.84 L45.35,347.65 L45.74,347.46 L46.12,347.27 L46.5,347.09 L46.89,346.9 L47.27,346.7 L47.65,346.51 L48.04,346.32 L48.42,346.12 L48.8,345.93 L49.19,345.73 L49.57,345.53 L49.95,345.33 L50.34,345.13 L50.72,344.93 L51.1,344.72 L51.48,344.52 L51.87,344.31 L52.25,344.1 L52.63,343.89 L53.02,343.68 L53.4,343.46 L53.78,343.24 L54.17,343.02 L54.55,342.79 L54.93,342.56 L55.32,342.33 L55.7,342.1 L56.08,341.86 L56.47,341.62 L56.85,341.38 L57.23,341.14 L57.62,340.89 L58,340.65 L58.38,340.4 L58.77,340.15 L59.15,339.91 L59.53,339.66 L59.91,339.41 L60.3,339.16 L60.68,338.92 L61.06,338.67 L61.45,338.42 L61.83,338.18 L62.21,337.94 L62.6,337.7 L62.98,337.46 L63.36,337.22 L63.75,336.98 L64.13,336.75 L64.51,336.52 L64.9,336.29 L65.28,336.07 L65.66,335.85 L66.05,335.63 L66.43,335.4 L66.81,335.18 L67.19,334.96 L67.58,334.73 L67.96,334.51 L68.34,334.28 L68.73,334.06 L69.11,333.84 L69.49,333.61 L69.88,333.39 L70.26,333.17 L70.64,332.95 L71.03,332.73 L71.41,332.51 L71.79,332.3 L72.18,332.08 L72.56,331.87 L72.94,331.66 L73.33,331.46 L73.71,331.25 L74.09,331.05 L74.47,330.85 L74.86,330.66 L75.24,330.47 L75.62,330.28 L76.01,330.09 L76.39,329.91 L76.77,329.74 L77.16,329.56 L77.54,329.4 L77.92,329.23 L78.31,329.07 L78.69,328.92 L79.07,328.76 L79.46,328.61 L79.84,328.46 L80.22,328.31 L80.61,328.17 L80.99,328.02 L81.37,327.88 L81.76,327.74 L82.14,327.61 L82.52,327.47 L82.9,327.34 L83.29,327.21 L83.67,327.08 L84.05,326.95 L84.44,326.82 L84.82,326.69 L85.2,326.57 L85.59,326.45 L85.97,326.32 L86.35,326.2 L86.74,326.08 L87.12,325.97 L87.5,325.85 L87.89,325.73 L88.27,325.62 L88.65,325.5 L89.04,325.39 L89.42,325.27 L89.8,325.16 L90.18,325.05 L90.57,324.93 L90.95,324.82 L91.33,324.71 L91.72,324.59 L92.1,324.48 L92.48,324.37 L92.87,324.26 L93.25,324.15 L93.63,324.04 L94.02,323.94 L94.4,323.84 L94.78,323.74 L95.17,323.64 L95.55,323.55 L95.93,323.45 L96.32,323.37 L96.7,323.28 L97.08,323.2 L97.46,323.13 L97.85,323.05 L98.23,322.98 L98.61,322.92 L99,322.85 L99.38,322.79 L99.76,322.73 L100.15,322.67 L100.53,322.61 L100.91,322.56 L101.3,322.5 L101.68,322.45 L102.06,322.4 L102.45,322.35 L102.83,322.3 L103.21,322.25 L103.6,322.2 L103.98,322.15 L104.36,322.1 L104.75,322.05 L105.13,322 L105.51,321.95 L105.89,321.9 L106.28,321.86 L106.66,321.82 L107.04,321.78 L107.43,321.74 L107.81,321.7 L108.19,321.67 L108.58,321.63 L108.96,321.59 L109.34,321.55 L109.73,321.51 L110.11,321.47 L110.49,321.43 L110.88,321.38 L111.26,321.33 L111.64,321.27 L112.03,321.21 L112.41,321.15 L112.79,321.08 L113.17,321 L113.56,320.92 L113.94,320.81 L114.32,320.7 L114.71,320.58 L115.09,320.45 L115.47,320.32 L115.86,320.17 L116.24,320.02 L116.62,319.86 L117.01,319.69 L117.39,319.51 L117.77,319.31 L118.16,319.1 L118.54,318.86 L118.92,318.6 L119.31,318.33 L119.69,318.05 L120.07,317.75 L120.45,317.44 L120.84,317.12 L121.22,316.8 L121.6,316.47 L121.99,316.13 L122.37,315.78 L122.75,315.41 L123.14,315.02 L123.52,314.62 L123.9,314.2 L124.29,313.77 L124.67,313.33 L125.05,312.88 L125.44,312.42 L125.82,311.95 L126.2,311.48 L126.59,311.01 L126.97,310.53 L127.35,310.06 L127.74,309.58 L128.12,309.1 L128.5,308.61 L128.88,308.12 L129.27,307.61 L129.65,307.09 L130.03,306.57 L130.42,306.04 L130.8,305.51 L131.18,304.98 L131.57,304.44 L131.95,303.9 L132.33,303.37 L132.72,302.83 L133.1,302.3 L133.48,301.77 L133.87,301.25 L134.25,300.72 L134.63,300.17 L135.02,299.61 L135.4,299.05 L135.78,298.48 L136.16,297.92 L136.55,297.37 L136.93,296.85 L137.31,296.34 L137.7,295.87 L138.08,295.43 L138.46,295.04 L138.85,294.64 L139.23,294.24 L139.61,293.83 L140,293.43 L140.38,293.05 L140.76,292.69 L141.15,292.37 L141.53,292.09 L141.91,291.86 L142.3,291.7 L142.68,291.61 L143.06,291.61 L143.44,291.66 L143.83,291.76 L144.21,291.91 L144.59,292.1 L144.98,292.33 L145.36,292.59 L145.74,292.87 L146.13,293.18 L146.51,293.51 L146.89,293.85 L147.28,294.2 L147.66,294.56 L148.04,295 L148.43,295.53 L148.81,296.14 L149.19,296.82 L149.58,297.55 L149.96,298.33 L150.34,299.14 L150.73,299.96 L151.11,300.8 L151.49,301.62 L151.87,302.44 L152.26,303.24 L152.64,304.08 L153.02,304.94 L153.41,305.83 L153.79,306.74 L154.17,307.67 L154.56,308.6 L154.94,309.54 L155.32,310.48 L155.71,311.41 L156.09,312.33 L156.47,313.24 L156.86,314.13 L157.24,315.01 L157.62,315.9 L158.01,316.78 L158.39,317.66 L158.77,318.53 L159.15,319.41 L159.54,320.29 L159.92,321.17 L160.3,322.06 L160.69,322.94 L161.07,323.83 L161.45,324.73 L161.84,325.66 L162.22,326.6 L162.6,327.54 L162.99,328.49 L163.37,329.43 L163.75,330.36 L164.14,331.28 L164.52,332.17 L164.9,333.03 L165.29,333.85 L165.67,334.64 L166.05,335.4 L166.43,336.14 L166.82,336.87 L167.2,337.59 L167.58,338.29 L167.97,338.97 L168.35,339.63 L168.73,340.28 L169.12,340.91 L169.5,341.52 L169.88,342.1 L170.27,342.67 L170.65,343.21 L171.03,343.75 L171.42,344.28 L171.8,344.81 L172.18,345.33 L172.57,345.85 L172.95,346.36 L173.33,346.87 L173.72,347.37 L174.1,347.86 L174.48,348.34 L174.86,348.81 L175.25,349.28 L175.63,349.73 L176.01,350.18 L176.4,350.61 L176.78,351.03 L177.16,351.44 L177.55,351.84 L177.93,352.22 L178.31,352.59 L178.7,352.94 L179.08,353.28 L179.46,353.61 L179.85,353.91 L180.23,354.2 L180.61,354.48 L181,354.74 L181.38,355 L181.76,355.26 L182.14,355.51 L182.53,355.75 L182.91,355.99 L183.29,356.22 L183.68,356.45 L184.06,356.67 L184.44,356.89 L184.83,357.1 L185.21,357.31 L185.59,357.52 L185.98,357.72 L186.36,357.91 L186.74,358.1 L187.13,358.29 L187.51,358.47 L187.89,358.65 L188.28,358.82 L188.66,358.99 L189.04,359.15 L189.42,359.32 L189.81,359.48 L190.19,359.63 L190.57,359.78 L190.96,359.93 L191.34,360.07 L191.72,360.22 L192.11,360.35 L192.49,360.49 L192.87,360.62 L193.26,360.75 L193.64,360.88 L194.02,361.01 L194.41,361.14 L194.79,361.26 L195.17,361.39 L195.56,361.51 L195.94,361.63 L196.32,361.76 L196.71,361.88 L197.09,362 L197.47,362.11 L197.85,362.23 L198.24,362.34 L198.62,362.45 L199,362.57 L199.39,362.67 L199.77,362.78 L200.15,362.89 L200.54,362.99 L200.92,363.09 L201.3,363.19 L201.69,363.28 L202.07,363.38 L202.45,363.47 L202.84,363.56 L203.22,363.64 L203.6,363.73 L203.99,363.81 L204.37,363.89 L204.75,363.96 L205.13,364.04 L205.52,364.1 L205.9,364.17 L206.28,364.23 L206.67,364.29 L207.05,364.35 L207.43,364.4 L207.82,364.45 L208.2,364.5" fill="none" stroke="#625c5c" stroke-width="1.05"/>
<text x="90" y="314.1" font-size="10.3" fill="#222" textLength="7.8" lengthAdjust="spacingAndGlyphs" >X<tspan font-size="7" dy="3.2">i</tspan></text>
<text x="152.5" y="288.9" font-size="10.3" fill="#222" textLength="11" lengthAdjust="spacingAndGlyphs" >X<tspan font-size="7" dy="3.2">d</tspan></text>
<defs><clipPath id="cb"><rect x="282.5" y="7.5" width="176.5" height="164.0"/></clipPath>
<radialGradient id="glow"><stop offset="0" stop-color="#ff1818"/><stop offset="0.2" stop-color="#ff2a2a"/><stop offset="0.45" stop-color="#ff5050" stop-opacity="0.55"/><stop offset="0.75" stop-color="#ff8888" stop-opacity="0.22"/><stop offset="1" stop-color="#ffb0b0" stop-opacity="0"/></radialGradient></defs>
<g clip-path="url(#cb)" fill="none" stroke="#7878e6" stroke-width="0.9">
<circle cx="293.3" cy="34.59" r="3"/><circle cx="293.62" cy="41.2" r="3"/><circle cx="293.94" cy="34.59" r="3"/><circle cx="294.26" cy="35.75" r="3"/><circle cx="294.58" cy="35.52" r="3"/><circle cx="294.9" cy="35.75" r="3"/><circle cx="295.22" cy="42.66" r="3"/><circle cx="295.54" cy="41.78" r="3"/><circle cx="295.86" cy="45.17" r="3"/><circle cx="296.19" cy="46.85" r="3"/><circle cx="296.51" cy="45.17" r="3"/><circle cx="296.83" cy="37.71" r="3"/><circle cx="297.15" cy="46.17" r="3"/><circle cx="297.47" cy="40.64" r="3"/><circle cx="297.79" cy="44.52" r="3"/><circle cx="298.11" cy="41.78" r="3"/><circle cx="298.43" cy="47.55" r="3"/><circle cx="298.75" cy="46.85" r="3"/><circle cx="299.07" cy="54.31" r="3"/><circle cx="299.39" cy="51.74" r="3"/><circle cx="299.71" cy="50.93" r="3"/><circle cx="300.03" cy="44.2" r="3"/><circle cx="300.35" cy="43.58" r="3"/><circle cx="300.67" cy="52.16" r="3"/><circle cx="300.99" cy="59.17" r="3"/><circle cx="301.31" cy="46.85" r="3"/><circle cx="301.64" cy="51.34" r="3"/><circle cx="301.96" cy="47.2" r="3"/><circle cx="302.28" cy="58.65" r="3"/><circle cx="302.6" cy="49.01" r="3"/><circle cx="302.92" cy="56.64" r="3"/><circle cx="303.24" cy="59.17" r="3"/><circle cx="303.56" cy="53.43" r="3"/><circle cx="303.88" cy="65.67" r="3"/><circle cx="304.2" cy="69.93" r="3"/><circle cx="304.52" cy="57.13" r="3"/><circle cx="304.84" cy="59.71" r="3"/><circle cx="305.16" cy="59.17" r="3"/><circle cx="305.48" cy="69.18" r="3"/><circle cx="305.8" cy="54.76" r="3"/><circle cx="306.12" cy="55.69" r="3"/><circle cx="306.44" cy="61.37" r="3"/><circle cx="306.77" cy="59.17" r="3"/><circle cx="307.09" cy="65.01" r="3"/><circle cx="307.41" cy="69.93" r="3"/><circle cx="307.73" cy="65.01" r="3"/><circle cx="308.05" cy="67.72" r="3"/><circle cx="308.37" cy="59.17" r="3"/><circle cx="308.69" cy="65.01" r="3"/><circle cx="309.01" cy="64.37" r="3"/><circle cx="309.33" cy="74.93" r="3"/><circle cx="309.65" cy="62.53" r="3"/><circle cx="309.97" cy="59.71" r="3"/><circle cx="310.29" cy="65.01" r="3"/><circle cx="310.61" cy="61.37" r="3"/><circle cx="310.93" cy="67.72" r="3"/><circle cx="311.25" cy="67.72" r="3"/><circle cx="311.57" cy="63.75" r="3"/><circle cx="311.89" cy="69.93" r="3"/><circle cx="312.22" cy="64.37" r="3"/><circle cx="312.54" cy="66.33" r="3"/><circle cx="312.86" cy="64.37" r="3"/><circle cx="313.18" cy="70.71" r="3"/><circle cx="313.5" cy="69.93" r="3"/><circle cx="313.82" cy="70.71" r="3"/><circle cx="314.14" cy="75.86" r="3"/><circle cx="314.46" cy="75.86" r="3"/><circle cx="314.78" cy="69.93" r="3"/><circle cx="315.1" cy="83.3" r="3"/><circle cx="315.42" cy="71.5" r="3"/><circle cx="315.74" cy="78.82" r="3"/><circle cx="316.06" cy="71.5" r="3"/><circle cx="316.38" cy="74.04" r="3"/><circle cx="316.7" cy="75.86" r="3"/><circle cx="317.02" cy="75.86" r="3"/><circle cx="317.35" cy="79.88" r="3"/><circle cx="317.67" cy="72.32" r="3"/><circle cx="317.99" cy="76.81" r="3"/><circle cx="318.31" cy="74.04" r="3"/><circle cx="318.63" cy="80.97" r="3"/><circle cx="318.95" cy="77.8" r="3"/><circle cx="319.27" cy="77.8" r="3"/><circle cx="319.59" cy="76.81" r="3"/><circle cx="319.91" cy="77.8" r="3"/><circle cx="320.23" cy="75.86" r="3"/><circle cx="320.55" cy="76.81" r="3"/><circle cx="320.87" cy="73.17" r="3"/><circle cx="321.19" cy="79.88" r="3"/><circle cx="321.51" cy="74.04" r="3"/><circle cx="321.83" cy="79.88" r="3"/><circle cx="322.15" cy="82.12" r="3"/><circle cx="322.47" cy="79.88" r="3"/><circle cx="322.8" cy="75.86" r="3"/><circle cx="323.12" cy="78.82" r="3"/><circle cx="323.44" cy="88.61" r="3"/><circle cx="323.76" cy="79.88" r="3"/><circle cx="324.08" cy="84.54" r="3"/><circle cx="324.4" cy="83.3" r="3"/><circle cx="324.72" cy="78.82" r="3"/><circle cx="325.04" cy="83.3" r="3"/><circle cx="325.36" cy="88.61" r="3"/><circle cx="325.68" cy="70.71" r="3"/><circle cx="326" cy="91.67" r="3"/><circle cx="326.32" cy="83.3" r="3"/><circle cx="326.64" cy="80.97" r="3"/><circle cx="326.96" cy="80.97" r="3"/><circle cx="327.28" cy="82.12" r="3"/><circle cx="327.6" cy="77.8" r="3"/><circle cx="327.92" cy="88.61" r="3"/><circle cx="328.25" cy="90.1" r="3"/><circle cx="328.57" cy="90.1" r="3"/><circle cx="328.89" cy="85.83" r="3"/><circle cx="329.21" cy="77.8" r="3"/><circle cx="329.53" cy="88.61" r="3"/><circle cx="329.85" cy="78.82" r="3"/><circle cx="330.17" cy="93.34" r="3"/><circle cx="330.49" cy="76.81" r="3"/><circle cx="330.81" cy="83.3" r="3"/><circle cx="331.13" cy="88.61" r="3"/><circle cx="331.45" cy="88.61" r="3"/><circle cx="331.77" cy="78.82" r="3"/><circle cx="332.09" cy="75.86" r="3"/><circle cx="332.41" cy="98.99" r="3"/><circle cx="332.73" cy="95.1" r="3"/><circle cx="333.05" cy="95.1" r="3"/><circle cx="333.38" cy="84.54" r="3"/><circle cx="333.7" cy="91.67" r="3"/><circle cx="334.02" cy="80.97" r="3"/><circle cx="334.34" cy="95.1" r="3"/><circle cx="334.66" cy="93.34" r="3"/><circle cx="334.98" cy="78.82" r="3"/><circle cx="335.3" cy="85.83" r="3"/><circle cx="335.62" cy="87.19" r="3"/><circle cx="335.94" cy="85.83" r="3"/><circle cx="336.26" cy="95.1" r="3"/><circle cx="336.58" cy="96.98" r="3"/><circle cx="336.9" cy="93.34" r="3"/><circle cx="337.22" cy="91.67" r="3"/><circle cx="337.54" cy="93.34" r="3"/><circle cx="337.86" cy="96.98" r="3"/><circle cx="338.18" cy="95.1" r="3"/><circle cx="338.5" cy="95.1" r="3"/><circle cx="338.83" cy="82.12" r="3"/><circle cx="339.15" cy="76.81" r="3"/><circle cx="339.47" cy="96.98" r="3"/><circle cx="339.79" cy="85.83" r="3"/><circle cx="340.11" cy="111.84" r="3"/><circle cx="340.43" cy="82.12" r="3"/><circle cx="340.75" cy="82.12" r="3"/><circle cx="341.07" cy="91.67" r="3"/><circle cx="341.39" cy="90.1" r="3"/><circle cx="341.71" cy="82.12" r="3"/><circle cx="342.03" cy="91.67" r="3"/><circle cx="342.35" cy="83.3" r="3"/><circle cx="342.67" cy="96.98" r="3"/><circle cx="342.99" cy="90.1" r="3"/><circle cx="343.31" cy="106" r="3"/><circle cx="343.63" cy="87.19" r="3"/><circle cx="343.95" cy="95.1" r="3"/><circle cx="344.28" cy="91.67" r="3"/><circle cx="344.6" cy="98.99" r="3"/><circle cx="344.92" cy="83.3" r="3"/><circle cx="345.24" cy="83.3" r="3"/><circle cx="345.56" cy="101.14" r="3"/><circle cx="345.88" cy="95.1" r="3"/><circle cx="346.2" cy="128.95" r="3"/><circle cx="346.52" cy="91.67" r="3"/><circle cx="346.84" cy="91.67" r="3"/><circle cx="347.16" cy="111.84" r="3"/><circle cx="347.48" cy="103.47" r="3"/><circle cx="347.8" cy="95.1" r="3"/><circle cx="348.12" cy="101.14" r="3"/><circle cx="348.44" cy="106" r="3"/><circle cx="348.76" cy="84.54" r="3"/><circle cx="349.08" cy="106" r="3"/><circle cx="349.41" cy="111.84" r="3"/><circle cx="349.73" cy="98.99" r="3"/><circle cx="350.05" cy="103.47" r="3"/><circle cx="350.37" cy="106" r="3"/><circle cx="350.69" cy="90.1" r="3"/><circle cx="351.01" cy="115.27" r="3"/><circle cx="351.33" cy="90.1" r="3"/><circle cx="351.65" cy="93.34" r="3"/><circle cx="351.97" cy="87.19" r="3"/><circle cx="352.29" cy="93.34" r="3"/><circle cx="352.61" cy="93.34" r="3"/><circle cx="352.93" cy="95.1" r="3"/><circle cx="353.25" cy="108.78" r="3"/><circle cx="353.57" cy="91.67" r="3"/><circle cx="353.89" cy="98.99" r="3"/><circle cx="354.21" cy="85.83" r="3"/><circle cx="354.53" cy="111.84" r="3"/><circle cx="354.86" cy="95.1" r="3"/><circle cx="355.18" cy="101.14" r="3"/><circle cx="355.5" cy="101.14" r="3"/><circle cx="355.82" cy="101.14" r="3"/><circle cx="356.14" cy="108.78" r="3"/><circle cx="356.46" cy="103.47" r="3"/><circle cx="356.78" cy="103.47" r="3"/><circle cx="357.1" cy="101.14" r="3"/><circle cx="357.42" cy="91.67" r="3"/><circle cx="357.74" cy="111.84" r="3"/><circle cx="358.06" cy="98.99" r="3"/><circle cx="358.38" cy="95.1" r="3"/><circle cx="358.7" cy="101.14" r="3"/><circle cx="359.02" cy="96.98" r="3"/><circle cx="359.34" cy="93.34" r="3"/><circle cx="359.66" cy="91.67" r="3"/><circle cx="359.98" cy="98.99" r="3"/><circle cx="360.31" cy="119.16" r="3"/><circle cx="360.63" cy="95.1" r="3"/><circle cx="360.95" cy="93.34" r="3"/><circle cx="361.27" cy="98.99" r="3"/><circle cx="361.59" cy="101.14" r="3"/><circle cx="361.91" cy="111.84" r="3"/><circle cx="362.23" cy="98.99" r="3"/><circle cx="362.55" cy="119.16" r="3"/><circle cx="362.87" cy="103.47" r="3"/><circle cx="363.19" cy="115.27" r="3"/><circle cx="363.51" cy="108.78" r="3"/><circle cx="363.83" cy="108.78" r="3"/><circle cx="364.15" cy="103.47" r="3"/><circle cx="364.47" cy="98.99" r="3"/><circle cx="364.79" cy="91.67" r="3"/><circle cx="365.11" cy="111.84" r="3"/><circle cx="365.44" cy="101.14" r="3"/><circle cx="365.76" cy="108.78" r="3"/><circle cx="366.08" cy="101.14" r="3"/><circle cx="366.4" cy="103.47" r="3"/><circle cx="366.72" cy="108.78" r="3"/><circle cx="367.04" cy="123.64" r="3"/><circle cx="367.36" cy="106" r="3"/><circle cx="367.68" cy="111.84" r="3"/><circle cx="368" cy="101.14" r="3"/><circle cx="368.32" cy="103.47" r="3"/><circle cx="368.64" cy="101.14" r="3"/><circle cx="368.96" cy="111.84" r="3"/><circle cx="369.28" cy="108.78" r="3"/><circle cx="369.6" cy="98.99" r="3"/><circle cx="369.92" cy="98.99" r="3"/><circle cx="370.24" cy="106" r="3"/><circle cx="370.56" cy="119.16" r="3"/><circle cx="370.89" cy="108.78" r="3"/><circle cx="371.21" cy="83.3" r="3"/><circle cx="371.53" cy="108.78" r="3"/><circle cx="371.85" cy="106" r="3"/><circle cx="372.17" cy="106" r="3"/><circle cx="372.49" cy="106" r="3"/><circle cx="372.81" cy="103.47" r="3"/><circle cx="373.13" cy="91.67" r="3"/><circle cx="373.45" cy="101.14" r="3"/><circle cx="373.77" cy="98.99" r="3"/><circle cx="374.09" cy="123.64" r="3"/><circle cx="374.41" cy="96.98" r="3"/><circle cx="374.73" cy="95.1" r="3"/><circle cx="375.05" cy="106" r="3"/><circle cx="375.37" cy="103.47" r="3"/><circle cx="375.69" cy="119.16" r="3"/><circle cx="376.01" cy="103.47" r="3"/><circle cx="376.34" cy="101.14" r="3"/><circle cx="376.66" cy="111.84" r="3"/><circle cx="376.98" cy="119.16" r="3"/><circle cx="377.3" cy="123.64" r="3"/><circle cx="377.62" cy="106" r="3"/><circle cx="377.94" cy="111.84" r="3"/><circle cx="378.26" cy="98.99" r="3"/><circle cx="378.58" cy="108.78" r="3"/><circle cx="378.9" cy="119.16" r="3"/><circle cx="379.22" cy="96.98" r="3"/><circle cx="379.54" cy="101.14" r="3"/><circle cx="379.86" cy="108.78" r="3"/><circle cx="380.18" cy="123.64" r="3"/><circle cx="380.5" cy="128.95" r="3"/><circle cx="380.82" cy="106" r="3"/><circle cx="381.14" cy="98.99" r="3"/><circle cx="381.47" cy="111.84" r="3"/><circle cx="381.79" cy="111.84" r="3"/><circle cx="382.11" cy="108.78" r="3"/><circle cx="382.43" cy="135.44" r="3"/><circle cx="382.75" cy="98.99" r="3"/><circle cx="383.07" cy="103.47" r="3"/><circle cx="383.39" cy="106" r="3"/><circle cx="383.71" cy="119.16" r="3"/><circle cx="384.03" cy="106" r="3"/><circle cx="384.35" cy="115.27" r="3"/><circle cx="384.67" cy="106" r="3"/><circle cx="384.99" cy="119.16" r="3"/><circle cx="385.31" cy="128.95" r="3"/><circle cx="385.63" cy="135.44" r="3"/><circle cx="385.95" cy="135.44" r="3"/><circle cx="386.27" cy="115.27" r="3"/><circle cx="386.59" cy="103.47" r="3"/><circle cx="386.92" cy="106" r="3"/><circle cx="387.24" cy="108.78" r="3"/><circle cx="387.56" cy="103.47" r="3"/><circle cx="387.88" cy="98.99" r="3"/><circle cx="388.2" cy="111.84" r="3"/><circle cx="388.52" cy="128.95" r="3"/><circle cx="388.84" cy="106" r="3"/><circle cx="389.16" cy="115.27" r="3"/><circle cx="389.48" cy="98.99" r="3"/><circle cx="389.8" cy="111.84" r="3"/><circle cx="390.12" cy="103.47" r="3"/><circle cx="390.44" cy="96.98" r="3"/><circle cx="390.76" cy="106" r="3"/><circle cx="391.08" cy="108.78" r="3"/><circle cx="391.4" cy="115.27" r="3"/><circle cx="391.72" cy="108.78" r="3"/><circle cx="392.04" cy="123.64" r="3"/><circle cx="392.37" cy="111.84" r="3"/><circle cx="392.69" cy="128.95" r="3"/><circle cx="393.01" cy="115.27" r="3"/><circle cx="393.33" cy="119.16" r="3"/><circle cx="393.65" cy="106" r="3"/><circle cx="393.97" cy="119.16" r="3"/><circle cx="394.29" cy="106" r="3"/><circle cx="394.61" cy="111.84" r="3"/><circle cx="394.93" cy="115.27" r="3"/><circle cx="395.25" cy="111.84" r="3"/><circle cx="395.57" cy="128.95" r="3"/><circle cx="395.89" cy="123.64" r="3"/><circle cx="396.21" cy="119.16" r="3"/><circle cx="396.53" cy="135.44" r="3"/><circle cx="396.85" cy="101.14" r="3"/><circle cx="397.17" cy="101.14" r="3"/><circle cx="397.5" cy="106" r="3"/><circle cx="397.82" cy="108.78" r="3"/><circle cx="398.14" cy="108.78" r="3"/><circle cx="398.46" cy="111.84" r="3"/><circle cx="398.78" cy="119.16" r="3"/><circle cx="399.1" cy="111.84" r="3"/><circle cx="399.42" cy="98.99" r="3"/><circle cx="399.74" cy="128.95" r="3"/><circle cx="400.06" cy="119.16" r="3"/><circle cx="400.38" cy="108.78" r="3"/><circle cx="400.7" cy="108.78" r="3"/><circle cx="401.02" cy="119.16" r="3"/><circle cx="401.34" cy="119.16" r="3"/><circle cx="401.66" cy="135.44" r="3"/><circle cx="401.98" cy="135.44" r="3"/><circle cx="402.3" cy="108.78" r="3"/><circle cx="402.62" cy="123.64" r="3"/><circle cx="402.95" cy="111.84" r="3"/><circle cx="403.27" cy="128.95" r="3"/><circle cx="403.59" cy="108.78" r="3"/><circle cx="403.91" cy="106" r="3"/><circle cx="404.23" cy="123.64" r="3"/><circle cx="404.55" cy="128.95" r="3"/><circle cx="404.87" cy="115.27" r="3"/><circle cx="405.19" cy="108.78" r="3"/><circle cx="405.51" cy="135.44" r="3"/><circle cx="405.83" cy="101.14" r="3"/><circle cx="406.15" cy="119.16" r="3"/><circle cx="406.47" cy="128.95" r="3"/><circle cx="406.79" cy="119.16" r="3"/><circle cx="407.11" cy="128.95" r="3"/><circle cx="407.43" cy="135.44" r="3"/><circle cx="407.75" cy="119.16" r="3"/><circle cx="408.07" cy="101.14" r="3"/><circle cx="408.4" cy="119.16" r="3"/><circle cx="408.72" cy="119.16" r="3"/><circle cx="409.04" cy="115.27" r="3"/><circle cx="409.36" cy="135.44" r="3"/><circle cx="409.68" cy="106" r="3"/><circle cx="410" cy="111.84" r="3"/><circle cx="410.32" cy="111.84" r="3"/><circle cx="410.64" cy="123.64" r="3"/><circle cx="410.96" cy="128.95" r="3"/><circle cx="411.28" cy="115.27" r="3"/><circle cx="411.6" cy="115.27" r="3"/><circle cx="411.92" cy="128.95" r="3"/><circle cx="412.24" cy="108.78" r="3"/><circle cx="412.56" cy="123.64" r="3"/><circle cx="412.88" cy="115.27" r="3"/><circle cx="413.2" cy="135.44" r="3"/><circle cx="413.52" cy="119.16" r="3"/><circle cx="413.85" cy="128.95" r="3"/><circle cx="414.17" cy="135.44" r="3"/><circle cx="414.49" cy="128.95" r="3"/><circle cx="414.81" cy="119.16" r="3"/><circle cx="415.13" cy="119.16" r="3"/><circle cx="415.45" cy="119.16" r="3"/><circle cx="415.77" cy="115.27" r="3"/><circle cx="416.09" cy="119.16" r="3"/><circle cx="416.41" cy="143.81" r="3"/><circle cx="416.73" cy="143.81" r="3"/><circle cx="417.05" cy="155.61" r="3"/><circle cx="417.37" cy="123.64" r="3"/><circle cx="417.69" cy="128.95" r="3"/><circle cx="418.01" cy="123.64" r="3"/><circle cx="418.33" cy="119.16" r="3"/><circle cx="418.65" cy="123.64" r="3"/><circle cx="418.98" cy="119.16" r="3"/><circle cx="419.3" cy="123.64" r="3"/><circle cx="419.62" cy="135.44" r="3"/><circle cx="419.94" cy="123.64" r="3"/><circle cx="420.26" cy="119.16" r="3"/><circle cx="420.58" cy="115.27" r="3"/><circle cx="420.9" cy="128.95" r="3"/><circle cx="421.22" cy="119.16" r="3"/><circle cx="421.54" cy="111.84" r="3"/><circle cx="421.86" cy="108.78" r="3"/><circle cx="422.18" cy="119.16" r="3"/><circle cx="422.5" cy="128.95" r="3"/><circle cx="422.82" cy="111.84" r="3"/><circle cx="423.14" cy="115.27" r="3"/><circle cx="423.46" cy="135.44" r="3"/><circle cx="423.78" cy="111.84" r="3"/><circle cx="424.1" cy="128.95" r="3"/><circle cx="424.43" cy="111.84" r="3"/><circle cx="424.75" cy="115.27" r="3"/><circle cx="425.07" cy="111.84" r="3"/><circle cx="425.39" cy="101.14" r="3"/><circle cx="425.71" cy="155.61" r="3"/><circle cx="426.03" cy="111.84" r="3"/><circle cx="426.35" cy="123.64" r="3"/><circle cx="426.67" cy="155.61" r="3"/><circle cx="426.99" cy="119.16" r="3"/><circle cx="427.31" cy="123.64" r="3"/><circle cx="427.63" cy="115.27" r="3"/><circle cx="427.95" cy="155.61" r="3"/><circle cx="428.27" cy="135.44" r="3"/><circle cx="428.59" cy="128.95" r="3"/><circle cx="428.91" cy="135.44" r="3"/><circle cx="429.23" cy="119.16" r="3"/><circle cx="429.56" cy="111.84" r="3"/><circle cx="429.88" cy="119.16" r="3"/><circle cx="430.2" cy="123.64" r="3"/><circle cx="430.52" cy="108.78" r="3"/><circle cx="430.84" cy="111.84" r="3"/><circle cx="431.16" cy="119.16" r="3"/><circle cx="431.48" cy="135.44" r="3"/><circle cx="431.8" cy="143.81" r="3"/><circle cx="432.12" cy="135.44" r="3"/><circle cx="432.44" cy="119.16" r="3"/><circle cx="432.76" cy="115.27" r="3"/><circle cx="433.08" cy="119.16" r="3"/><circle cx="433.4" cy="123.64" r="3"/><circle cx="433.72" cy="123.64" r="3"/><circle cx="434.04" cy="128.95" r="3"/><circle cx="434.36" cy="143.81" r="3"/><circle cx="434.68" cy="155.61" r="3"/><circle cx="435.01" cy="143.81" r="3"/><circle cx="435.33" cy="123.64" r="3"/><circle cx="435.65" cy="135.44" r="3"/><circle cx="435.97" cy="128.95" r="3"/><circle cx="436.29" cy="123.64" r="3"/><circle cx="436.61" cy="119.16" r="3"/><circle cx="436.93" cy="143.81" r="3"/><circle cx="437.25" cy="135.44" r="3"/><circle cx="437.57" cy="135.44" r="3"/><circle cx="437.89" cy="128.95" r="3"/><circle cx="438.21" cy="123.64" r="3"/><circle cx="438.53" cy="123.64" r="3"/><circle cx="438.85" cy="123.64" r="3"/><circle cx="439.17" cy="135.44" r="3"/><circle cx="439.49" cy="135.44" r="3"/><circle cx="439.81" cy="123.64" r="3"/><circle cx="440.13" cy="128.95" r="3"/><circle cx="440.46" cy="143.81" r="3"/><circle cx="440.78" cy="143.81" r="3"/><circle cx="441.1" cy="108.78" r="3"/><circle cx="441.42" cy="155.61" r="3"/><circle cx="441.74" cy="155.61" r="3"/><circle cx="442.06" cy="135.44" r="3"/><circle cx="442.38" cy="143.81" r="3"/><circle cx="442.7" cy="123.64" r="3"/><circle cx="443.02" cy="115.27" r="3"/><circle cx="443.34" cy="143.81" r="3"/><circle cx="443.66" cy="119.16" r="3"/><circle cx="443.98" cy="143.81" r="3"/><circle cx="444.3" cy="135.44" r="3"/><circle cx="444.62" cy="143.81" r="3"/><circle cx="444.94" cy="143.81" r="3"/><circle cx="445.26" cy="143.81" r="3"/><circle cx="445.59" cy="155.61" r="3"/><circle cx="445.91" cy="128.95" r="3"/><circle cx="446.23" cy="123.64" r="3"/><circle cx="446.55" cy="119.16" r="3"/><circle cx="446.87" cy="106" r="3"/><circle cx="447.19" cy="128.95" r="3"/><circle cx="447.51" cy="143.81" r="3"/><circle cx="447.83" cy="135.44" r="3"/><circle cx="448.15" cy="123.64" r="3"/><circle cx="448.47" cy="115.27" r="3"/><circle cx="449.11" cy="119.16" r="3"/><circle cx="449.43" cy="143.81" r="3"/><circle cx="449.75" cy="135.44" r="3"/><circle cx="450.07" cy="123.64" r="3"/><circle cx="450.39" cy="115.27" r="3"/><circle cx="450.71" cy="119.16" r="3"/><circle cx="451.04" cy="115.27" r="3"/><circle cx="451.68" cy="135.44" r="3"/><circle cx="452" cy="119.16" r="3"/><circle cx="452.32" cy="119.16" r="3"/><circle cx="452.64" cy="155.61" r="3"/><circle cx="452.96" cy="128.95" r="3"/><circle cx="453.28" cy="108.78" r="3"/><circle cx="453.6" cy="143.81" r="3"/><circle cx="453.92" cy="123.64" r="3"/><circle cx="293.1" cy="135" r="3"/><circle cx="288.6" cy="143.4" r="3"/><circle cx="292.1" cy="143.4" r="3"/><circle cx="292.6" cy="155.2" r="3"/><circle cx="294" cy="31.3" r="3"/>
</g>
<path d="M293.3,34.63 L293.84,35.91 L294.37,37.18 L294.91,38.43 L295.44,39.66 L295.98,40.88 L296.52,42.08 L297.05,43.26 L297.59,44.42 L298.13,45.57 L298.66,46.7 L299.2,47.81 L299.73,48.9 L300.27,49.97 L300.81,51.03 L301.34,52.06 L301.88,53.08 L302.41,54.08 L302.95,55.06 L303.49,56.03 L304.02,56.97 L304.56,57.9 L305.09,58.8 L305.63,59.69 L306.17,60.56 L306.7,61.42 L307.24,62.25 L307.78,63.07 L308.31,63.87 L308.85,64.65 L309.38,65.42 L309.92,66.17 L310.46,66.91 L310.99,67.62 L311.53,68.33 L312.06,69.01 L312.6,69.69 L313.14,70.34 L313.67,70.99 L314.21,71.61 L314.74,72.23 L315.28,72.83 L315.82,73.42 L316.35,74 L316.89,74.56 L317.43,75.11 L317.96,75.65 L318.5,76.18 L319.03,76.7 L319.57,77.21 L320.11,77.7 L320.64,78.19 L321.18,78.67 L321.71,79.14 L322.25,79.6 L322.79,80.05 L323.32,80.5 L323.86,80.93 L324.39,81.36 L324.93,81.78 L325.47,82.19 L326,82.6 L326.54,83 L327.08,83.39 L327.61,83.78 L328.15,84.16 L328.68,84.54 L329.22,84.91 L329.76,85.27 L330.29,85.64 L330.83,85.99 L331.36,86.34 L331.9,86.69 L332.44,87.03 L332.97,87.37 L333.51,87.71 L334.05,88.04 L334.58,88.37 L335.12,88.69 L335.65,89.01 L336.19,89.33 L336.73,89.64 L337.26,89.96 L337.8,90.27 L338.33,90.57 L338.87,90.88 L339.41,91.18 L339.94,91.48 L340.48,91.77 L341.01,92.07 L341.55,92.36 L342.09,92.65 L342.62,92.94 L343.16,93.23 L343.7,93.52 L344.23,93.8 L344.77,94.08 L345.3,94.36 L345.84,94.64 L346.38,94.92 L346.91,95.2 L347.45,95.47 L347.98,95.74 L348.52,96.02 L349.06,96.29 L349.59,96.56 L350.13,96.83 L350.66,97.09 L351.2,97.36 L351.74,97.63 L352.27,97.89 L352.81,98.16 L353.35,98.42 L353.88,98.68 L354.42,98.94 L354.95,99.2 L355.49,99.46 L356.03,99.72 L356.56,99.98 L357.1,100.23 L357.63,100.49 L358.17,100.75 L358.71,101 L359.24,101.26 L359.78,101.51 L360.32,101.76 L360.85,102.01 L361.39,102.27 L361.92,102.52 L362.46,102.77 L363,103.02 L363.53,103.27 L364.07,103.51 L364.6,103.76 L365.14,104.01 L365.68,104.26 L366.21,104.5 L366.75,104.75 L367.28,104.99 L367.82,105.24 L368.36,105.48 L368.89,105.73 L369.43,105.97 L369.97,106.21 L370.5,106.45 L371.04,106.7 L371.57,106.94 L372.11,107.18 L372.65,107.42 L373.18,107.66 L373.72,107.89 L374.25,108.13 L374.79,108.37 L375.33,108.61 L375.86,108.85 L376.4,109.08 L376.93,109.32 L377.47,109.55 L378.01,109.79 L378.54,110.02 L379.08,110.26 L379.62,110.49 L380.15,110.72 L380.69,110.96 L381.22,111.19 L381.76,111.42 L382.3,111.65 L382.83,111.88 L383.37,112.11 L383.9,112.34 L384.44,112.57 L384.98,112.8 L385.51,113.03 L386.05,113.25 L386.58,113.48 L387.12,113.71 L387.66,113.93 L388.19,114.16 L388.73,114.38 L389.27,114.61 L389.8,114.83 L390.34,115.05 L390.87,115.28 L391.41,115.5 L391.95,115.72 L392.48,115.94 L393.02,116.16 L393.55,116.38 L394.09,116.6 L394.63,116.82 L395.16,117.04 L395.7,117.26 L396.24,117.48 L396.77,117.69 L397.31,117.91 L397.84,118.13 L398.38,118.34 L398.92,118.56 L399.45,118.77 L399.99,118.98 L400.52,119.2 L401.06,119.41 L401.6,119.62 L402.13,119.83 L402.67,120.04 L403.2,120.25 L403.74,120.46 L404.28,120.67 L404.81,120.88 L405.35,121.09 L405.89,121.3 L406.42,121.5 L406.96,121.71 L407.49,121.92 L408.03,122.12 L408.57,122.33 L409.1,122.53 L409.64,122.73 L410.17,122.94 L410.71,123.14 L411.25,123.34 L411.78,123.54 L412.32,123.74 L412.85,123.94 L413.39,124.14 L413.93,124.34 L414.46,124.54 L415,124.73 L415.54,124.93 L416.07,125.13 L416.61,125.32 L417.14,125.52 L417.68,125.71 L418.22,125.9 L418.75,126.1 L419.29,126.29 L419.82,126.48 L420.36,126.67 L420.9,126.86 L421.43,127.05 L421.97,127.24 L422.51,127.43 L423.04,127.62 L423.58,127.8 L424.11,127.99 L424.65,128.18 L425.19,128.36 L425.72,128.55 L426.26,128.73 L426.79,128.91 L427.33,129.1 L427.87,129.28 L428.4,129.46 L428.94,129.64 L429.47,129.82 L430.01,130 L430.55,130.18 L431.08,130.35 L431.62,130.53 L432.16,130.71 L432.69,130.88 L433.23,131.06 L433.76,131.23 L434.3,131.41 L434.84,131.58 L435.37,131.75 L435.91,131.92 L436.44,132.09 L436.98,132.26 L437.52,132.43 L438.05,132.6 L438.59,132.77 L439.12,132.94 L439.66,133.11 L440.2,133.27 L440.73,133.44 L441.27,133.6 L441.81,133.77 L442.34,133.93 L442.88,134.09 L443.41,134.25 L443.95,134.42 L444.49,134.58 L445.02,134.74 L445.56,134.89 L446.09,135.05 L446.63,135.21 L447.17,135.37 L447.7,135.52 L448.24,135.68 L448.77,135.83 L449.31,135.99 L449.85,136.14 L450.38,136.29 L450.92,136.45 L451.46,136.6 L451.99,136.75 L452.53,136.9 L453.06,137.05 L453.6,137.2" fill="none" stroke="#e60c1c" stroke-width="2"/>
<rect x="282.5" y="7.5" width="176.5" height="164.0" fill="none" stroke="#6a6a6a" stroke-width="1"/>
<rect x="370" y="142.6" width="72" height="24" fill="#fff"/>
<line x1="282.5" y1="32.5" x2="285.0" y2="32.5" stroke="#6a6a6a" stroke-width="1"/>
<text x="277.8" y="35.8" font-size="9.3" fill="#333" text-anchor="end" >1</text>
<line x1="282.5" y1="99.5" x2="285.0" y2="99.5" stroke="#6a6a6a" stroke-width="1"/>
<text x="277.8" y="102.8" font-size="9.3" fill="#333" text-anchor="end" >0.1</text>
<line x1="282.5" y1="166.5" x2="285.0" y2="166.5" stroke="#6a6a6a" stroke-width="1"/>
<text x="277.8" y="169.8" font-size="9.3" fill="#333" text-anchor="end" >0.01</text>
<line x1="293.3" y1="171.5" x2="293.3" y2="169.0" stroke="#6a6a6a" stroke-width="1"/>
<text x="293.3" y="183.1" font-size="9.5" fill="#333" text-anchor="middle" >0</text>
<line x1="325.36" y1="171.5" x2="325.36" y2="169.0" stroke="#6a6a6a" stroke-width="1"/>
<text x="325.36" y="183.1" font-size="9.5" fill="#333" text-anchor="middle" >50</text>
<line x1="357.42" y1="171.5" x2="357.42" y2="169.0" stroke="#6a6a6a" stroke-width="1"/>
<text x="357.42" y="183.1" font-size="9.5" fill="#333" text-anchor="middle" >100</text>
<line x1="389.48" y1="171.5" x2="389.48" y2="169.0" stroke="#6a6a6a" stroke-width="1"/>
<text x="389.48" y="183.1" font-size="9.5" fill="#333" text-anchor="middle" >150</text>
<line x1="421.54" y1="171.5" x2="421.54" y2="169.0" stroke="#6a6a6a" stroke-width="1"/>
<text x="421.54" y="183.1" font-size="9.5" fill="#333" text-anchor="middle" >200</text>
<line x1="453.6" y1="171.5" x2="453.6" y2="169.0" stroke="#6a6a6a" stroke-width="1"/>
<text x="453.6" y="183.1" font-size="9.5" fill="#333" text-anchor="middle" >250</text>
<text x="348" y="199.5" font-size="10" fill="#333" textLength="45.7" lengthAdjust="spacingAndGlyphs" >Time (ns)</text>
<text transform="translate(248.9,89.3) rotate(-90)" font-size="10" fill="#333" text-anchor="middle" textLength="84.8" lengthAdjust="spacingAndGlyphs">PL intensity (a.u.)</text>
<text x="289.3" y="18.4" font-size="10.5" fill="#222" textLength="63.7" lengthAdjust="spacingAndGlyphs" ><tspan font-style="italic" font-size="11.5">τ</tspan><tspan font-size="8" dy="3.1">f,XX</tspan><tspan dy="-3.1"> = 13.5 ns</tspan></text>
<text x="372.7" y="153.2" font-size="10.5" fill="#222" textLength="58.8" lengthAdjust="spacingAndGlyphs" ><tspan font-style="italic" font-size="11.5">τ</tspan><tspan font-size="8" dy="3.1">s,XX</tspan><tspan dy="-3.1"> = 83 ns</tspan></text>
<circle cx="313.5" cy="144.8" r="3" fill="none" stroke="#7878e6" stroke-width="0.9"/>
<line x1="305.2" y1="157.4" x2="321.1" y2="157.4" stroke="#e8141e" stroke-width="1.6"/>
<text x="326.9" y="148.5" font-size="10.5" fill="#222" textLength="13" lengthAdjust="spacingAndGlyphs" >XX</text>
<text x="326.9" y="161.2" font-size="10.5" fill="#222" textLength="11.6" lengthAdjust="spacingAndGlyphs" >Fit</text>
<path d="M344.9,65.9 H359.6 V46.5 H364.6 V65.9 H436.9" fill="none" stroke="#1424a8" stroke-width="1.4"/>
<line x1="365.3" y1="43.2" x2="382.6" y2="43.2" stroke="#7d8a9c" stroke-width="1.3"/>
<path d="M363.3,43.2 L367.8,41.2 L366.8,43.2 L367.8,45.2 Z" fill="#3e4a60"/>
<path d="M384.6,43.2 L380.1,41.2 L381.1,43.2 L380.1,45.2 Z" fill="#3e4a60"/>
<line x1="388.2" y1="43.2" x2="414.8" y2="43.2" stroke="#7d8a9c" stroke-width="1.3"/>
<path d="M386.2,43.2 L390.7,41.2 L389.7,43.2 L390.7,45.2 Z" fill="#3e4a60"/>
<path d="M416.8,43.2 L412.3,41.2 L413.3,43.2 L412.3,45.2 Z" fill="#3e4a60"/>
<text x="369.3" y="34.7" font-size="11" fill="#222" textLength="13.8" lengthAdjust="spacingAndGlyphs" ><tspan font-style="italic">τ</tspan><tspan font-size="7.5" dy="3">XX</tspan></text>
<text x="393.3" y="34.7" font-size="11" fill="#222" textLength="8.9" lengthAdjust="spacingAndGlyphs" ><tspan font-style="italic">τ</tspan><tspan font-size="7.5" dy="3">X</tspan></text>
<circle cx="385.1" cy="55.9" r="6" fill="url(#glow)"/>
<circle cx="416.8" cy="55.9" r="6" fill="url(#glow)"/>
<text x="422.3" y="50" font-size="10.5" fill="#f0282e" textLength="34.7" lengthAdjust="spacingAndGlyphs" >Photon</text>
<text x="381.5" y="77" font-size="10.5" fill="#2a36a8" textLength="56" lengthAdjust="spacingAndGlyphs" >Laser pulse</text>
<rect x="522.5" y="6.5" width="156.0" height="360.0" fill="none" stroke="#6a6a6a" stroke-width="1"/>
<ellipse cx="601" cy="246.4" rx="126" ry="16.5" transform="rotate(-62.6 601 246.4)" fill="#d9d9d9"/>
<ellipse cx="625.2" cy="35.1" rx="14" ry="10.2" transform="rotate(-55 625.2 35.1)" fill="#fdd8d8"/>
<ellipse cx="628.3" cy="144.5" rx="31" ry="9.6" transform="rotate(-75 628.3 144.5)" fill="#bde8b4" fill-opacity="0.6"/>
<ellipse cx="629.3" cy="127" rx="17.7" ry="11.6" fill="#aab0f0" fill-opacity="0.55"/>
<line x1="522.5" y1="323.5" x2="525.5" y2="323.5" stroke="#6a6a6a" stroke-width="1"/>
<text x="518.4" y="326.9" font-size="9.6" fill="#333" text-anchor="end" >10<tspan font-size="6.3" dy="-4.6">1</tspan></text>
<line x1="522.5" y1="229.5" x2="525.5" y2="229.5" stroke="#6a6a6a" stroke-width="1"/>
<text x="518.4" y="232.9" font-size="9.6" fill="#333" text-anchor="end" >10<tspan font-size="6.3" dy="-4.6">2</tspan></text>
<line x1="522.5" y1="135.5" x2="525.5" y2="135.5" stroke="#6a6a6a" stroke-width="1"/>
<text x="518.4" y="138.9" font-size="9.6" fill="#333" text-anchor="end" >10<tspan font-size="6.3" dy="-4.6">3</tspan></text>
<line x1="522.5" y1="40.5" x2="525.5" y2="40.5" stroke="#6a6a6a" stroke-width="1"/>
<text x="518.4" y="43.9" font-size="9.6" fill="#333" text-anchor="end" >10<tspan font-size="6.3" dy="-4.6">4</tspan></text>
<line x1="522.5" y1="361.03" x2="524.3" y2="361.03" stroke="#6a6a6a" stroke-width="0.9"/>
<line x1="522.5" y1="351.89" x2="524.3" y2="351.89" stroke="#6a6a6a" stroke-width="0.9"/>
<line x1="522.5" y1="344.42" x2="524.3" y2="344.42" stroke="#6a6a6a" stroke-width="0.9"/>
<line x1="522.5" y1="338.1" x2="524.3" y2="338.1" stroke="#6a6a6a" stroke-width="0.9"/>
<line x1="522.5" y1="332.63" x2="524.3" y2="332.63" stroke="#6a6a6a" stroke-width="0.9"/>
<line x1="522.5" y1="327.81" x2="524.3" y2="327.81" stroke="#6a6a6a" stroke-width="0.9"/>
<line x1="522.5" y1="295.09" x2="524.3" y2="295.09" stroke="#6a6a6a" stroke-width="0.9"/>
<line x1="522.5" y1="278.48" x2="524.3" y2="278.48" stroke="#6a6a6a" stroke-width="0.9"/>
<line x1="522.5" y1="266.7" x2="524.3" y2="266.7" stroke="#6a6a6a" stroke-width="0.9"/>
<line x1="522.5" y1="257.56" x2="524.3" y2="257.56" stroke="#6a6a6a" stroke-width="0.9"/>
<line x1="522.5" y1="250.09" x2="524.3" y2="250.09" stroke="#6a6a6a" stroke-width="0.9"/>
<line x1="522.5" y1="243.77" x2="524.3" y2="243.77" stroke="#6a6a6a" stroke-width="0.9"/>
<line x1="522.5" y1="238.3" x2="524.3" y2="238.3" stroke="#6a6a6a" stroke-width="0.9"/>
<line x1="522.5" y1="233.48" x2="524.3" y2="233.48" stroke="#6a6a6a" stroke-width="0.9"/>
<line x1="522.5" y1="200.76" x2="524.3" y2="200.76" stroke="#6a6a6a" stroke-width="0.9"/>
<line x1="522.5" y1="184.15" x2="524.3" y2="184.15" stroke="#6a6a6a" stroke-width="0.9"/>
<line x1="522.5" y1="172.37" x2="524.3" y2="172.37" stroke="#6a6a6a" stroke-width="0.9"/>
<line x1="522.5" y1="163.23" x2="524.3" y2="163.23" stroke="#6a6a6a" stroke-width="0.9"/>
<line x1="522.5" y1="155.76" x2="524.3" y2="155.76" stroke="#6a6a6a" stroke-width="0.9"/>
<line x1="522.5" y1="149.44" x2="524.3" y2="149.44" stroke="#6a6a6a" stroke-width="0.9"/>
<line x1="522.5" y1="143.97" x2="524.3" y2="143.97" stroke="#6a6a6a" stroke-width="0.9"/>
<line x1="522.5" y1="139.15" x2="524.3" y2="139.15" stroke="#6a6a6a" stroke-width="0.9"/>
<line x1="522.5" y1="106.43" x2="524.3" y2="106.43" stroke="#6a6a6a" stroke-width="0.9"/>
<line x1="522.5" y1="89.82" x2="524.3" y2="89.82" stroke="#6a6a6a" stroke-width="0.9"/>
<line x1="522.5" y1="78.04" x2="524.3" y2="78.04" stroke="#6a6a6a" stroke-width="0.9"/>
<line x1="522.5" y1="68.9" x2="524.3" y2="68.9" stroke="#6a6a6a" stroke-width="0.9"/>
<line x1="522.5" y1="61.43" x2="524.3" y2="61.43" stroke="#6a6a6a" stroke-width="0.9"/>
<line x1="522.5" y1="55.11" x2="524.3" y2="55.11" stroke="#6a6a6a" stroke-width="0.9"/>
<line x1="522.5" y1="49.64" x2="524.3" y2="49.64" stroke="#6a6a6a" stroke-width="0.9"/>
<line x1="522.5" y1="44.82" x2="524.3" y2="44.82" stroke="#6a6a6a" stroke-width="0.9"/>
<line x1="522.5" y1="12.1" x2="524.3" y2="12.1" stroke="#6a6a6a" stroke-width="0.9"/>
<line x1="565.3" y1="366.5" x2="565.3" y2="363.8" stroke="#6a6a6a" stroke-width="1"/>
<text x="565.3" y="379" font-size="9.2" fill="#333" text-anchor="middle" >10</text>
<line x1="619.3" y1="366.5" x2="619.3" y2="363.8" stroke="#6a6a6a" stroke-width="1"/>
<text x="619.3" y="379" font-size="9.2" fill="#333" text-anchor="middle" >100</text>
<line x1="673.3" y1="366.5" x2="673.3" y2="363.8" stroke="#6a6a6a" stroke-width="1"/>
<text x="673.3" y="379" font-size="9.2" fill="#333" text-anchor="middle" >1,000</text>
<text x="546.5" y="394.5" font-size="10.2" fill="#333" textLength="107.2" lengthAdjust="spacingAndGlyphs" >Particle volume (nm<tspan font-size="7" dy="-4.3">3</tspan><tspan dy="4.3">)</tspan></text>
<text transform="translate(495.9,187.5) rotate(-90)" font-size="10" fill="#333" text-anchor="middle" textLength="74" lengthAdjust="spacingAndGlyphs">XX lifetime (ps)</text>
<text x="530.8" y="32.2" font-size="10.8" fill="#ee2028" textLength="78.3" lengthAdjust="spacingAndGlyphs" >Type-(I + II) QDs</text>
<text x="530.8" y="108.1" font-size="10.8" fill="#2424ee" textLength="129" lengthAdjust="spacingAndGlyphs" >Continuously graded QDs</text>
<text x="554.9" y="158.6" font-size="10.8" fill="#3c9a34" textLength="53" lengthAdjust="spacingAndGlyphs" >C/A/S QDs</text>
<text x="612.1" y="289.2" font-size="10.8" fill="#333" textLength="50.7" lengthAdjust="spacingAndGlyphs" >CdSe QDs</text>
<path d="M653.4,140.9 L656.8,146.7 L650,146.7 Z" fill="#fff" stroke="#111" stroke-width="1" stroke-linejoin="miter"/>
<circle cx="637.8" cy="176.6" r="2.8" fill="#fff" stroke="#111" stroke-width="1"/>
<circle cx="610.9" cy="214.1" r="2.8" fill="#fff" stroke="#111" stroke-width="1"/>
<path d="M625,209.3 L628.4,215.1 L621.6,215.1 Z" fill="#fff" stroke="#111" stroke-width="1" stroke-linejoin="miter"/>
<path d="M621.7,218.1 L625.1,212.3 L618.3,212.3 Z" fill="#fff" stroke="#111" stroke-width="1" stroke-linejoin="miter"/>
<path d="M614.5,231.4 L617.9,225.6 L611.1,225.6 Z" fill="#fff" stroke="#111" stroke-width="1" stroke-linejoin="miter"/>
<rect x="624.6" y="224.6" width="5.8" height="5.8" fill="#fff" stroke="#111" stroke-width="1"/>
<rect x="602.9" y="234.9" width="5.8" height="5.8" fill="#fff" stroke="#111" stroke-width="1"/>
<path d="M605.6,246.6 L609,240.8 L602.2,240.8 Z" fill="#fff" stroke="#111" stroke-width="1" stroke-linejoin="miter"/>
<circle cx="598.1" cy="263.1" r="2.8" fill="#fff" stroke="#111" stroke-width="1"/>
<path d="M597.8,260 L601.2,254.2 L594.4,254.2 Z" fill="#fff" stroke="#111" stroke-width="1" stroke-linejoin="miter"/>
<rect x="589.0" y="255.29999999999998" width="5.8" height="5.8" fill="#fff" stroke="#111" stroke-width="1"/>
<path d="M592.6,268.8 L596,263 L589.2,263 Z" fill="#fff" stroke="#111" stroke-width="1" stroke-linejoin="miter"/>
<rect x="575.6" y="272.40000000000003" width="5.8" height="5.8" fill="#fff" stroke="#111" stroke-width="1"/>
<path d="M580.7,290.2 L584.1,284.4 L577.3,284.4 Z" fill="#fff" stroke="#111" stroke-width="1" stroke-linejoin="miter"/>
<circle cx="575.8" cy="295.3" r="2.8" fill="#fff" stroke="#111" stroke-width="1"/>
<rect x="570.4" y="295.6" width="5.8" height="5.8" fill="#fff" stroke="#111" stroke-width="1"/>
<rect x="551.5" y="321.8" width="5.8" height="5.8" fill="#fff" stroke="#111" stroke-width="1"/>
<rect x="542.2" y="342.0" width="5.8" height="5.8" fill="#fff" stroke="#111" stroke-width="1"/>
<circle cx="551.2" cy="346.7" r="2.8" fill="#fff" stroke="#111" stroke-width="1"/>
<path d="M636.4,111.4 L639.8,117.2 L633,117.2 Z" fill="#fff" stroke="#5c9a2c" stroke-width="1" stroke-linejoin="miter"/>
<path d="M632.4,131.4 L635.8,137.2 L629,137.2 Z" fill="#fff" stroke="#5c9a2c" stroke-width="1" stroke-linejoin="miter"/>
<path d="M621.6,165.9 L625,171.7 L618.2,171.7 Z" fill="#fff" stroke="#5c9a2c" stroke-width="1" stroke-linejoin="miter"/>
<circle cx="623.3" cy="123.9" r="2.8" fill="none" stroke="#2424ee" stroke-width="1.1"/>
<rect x="632.0" y="124.5" width="5.8" height="5.8" fill="#fff" stroke="#2424ee" stroke-width="1"/>
<circle cx="629.5" cy="27.9" r="3.4" fill="#f01418"/>
<rect x="617.6" y="37.1" width="6.6" height="6.6" fill="#f01418"/>
<rect x="282.5" y="229" width="173.0" height="137.5" fill="none" stroke="#6a6a6a" stroke-width="1"/>
<line x1="285.6" y1="366.5" x2="285.6" y2="364.0" stroke="#6a6a6a" stroke-width="1"/>
<text x="285.9" y="378" font-size="9.6" fill="#333" text-anchor="middle" textLength="14.3" lengthAdjust="spacingAndGlyphs" >−10</text>
<line x1="327.25" y1="366.5" x2="327.25" y2="364.0" stroke="#6a6a6a" stroke-width="1"/>
<text x="327.55" y="378" font-size="9.6" fill="#333" text-anchor="middle" textLength="9.2" lengthAdjust="spacingAndGlyphs" >−5</text>
<line x1="368.9" y1="366.5" x2="368.9" y2="364.0" stroke="#6a6a6a" stroke-width="1"/>
<text x="368.9" y="378" font-size="9.6" fill="#333" text-anchor="middle" textLength="5.6" lengthAdjust="spacingAndGlyphs" >0</text>
<line x1="410.55" y1="366.5" x2="410.55" y2="364.0" stroke="#6a6a6a" stroke-width="1"/>
<text x="410.55" y="378" font-size="9.6" fill="#333" text-anchor="middle" textLength="5.6" lengthAdjust="spacingAndGlyphs" >5</text>
<line x1="452.2" y1="366.5" x2="452.2" y2="364.0" stroke="#6a6a6a" stroke-width="1"/>
<text x="452.2" y="378" font-size="9.6" fill="#333" text-anchor="middle" textLength="10.8" lengthAdjust="spacingAndGlyphs" >10</text>
<text x="331.3" y="393.6" font-size="10" fill="#333" textLength="75.1" lengthAdjust="spacingAndGlyphs" >Delay time (μs)</text>
<text transform="translate(275.8,297.5) rotate(-90)" font-size="10.8" fill="#333" text-anchor="middle" textLength="26.6" lengthAdjust="spacingAndGlyphs"><tspan font-style="italic">g</tspan><tspan font-size="6.5" dy="-3.5">(2)</tspan><tspan dy="3.5">(</tspan><tspan font-style="italic">τ</tspan>)</text>
<text x="319.6" y="223.5" font-size="10.3" fill="#222" textLength="98" lengthAdjust="spacingAndGlyphs"><tspan font-style="italic">g</tspan><tspan font-size="6.5" dy="-3.5">(2)</tspan><tspan dy="3.5">(0) = 0.76 ± 0.09</tspan></text>
<text x="395.5" y="240.9" font-size="10.5" fill="#2a8a2a" textLength="52.5" lengthAdjust="spacingAndGlyphs" >Non-gated</text>
<text x="373.9" y="322.6" font-size="10.5" fill="#a07828" textLength="75" lengthAdjust="spacingAndGlyphs" >Gated (200 ns)</text>
<path d="M285.6,307.01 L286.43,308.29 L287.27,307.75 L288.1,308.3 L288.93,307.81 L289.76,308.07 L290.6,307.21 L291.43,307.53 L292.26,308.27 L293.1,306.28 L293.93,307.06 L294.76,306.87 L295.6,305.71 L296.43,305.04 L297.26,304.12 L298.09,301.63 L298.93,299.88 L299.76,296.16 L300.59,291.89 L301.43,285.82 L302.26,248.5 L303.09,286.17 L303.93,292.41 L304.76,295.91 L305.59,300.6 L306.42,302.47 L307.26,303.87 L308.09,304.53 L308.92,305.47 L309.76,306.36 L310.59,306.72 L311.42,306.06 L312.26,307.39 L313.09,308.55 L313.92,306.46 L314.75,307.85 L315.59,307.62 L316.42,307.43 L317.25,308.14 L318.09,306.97 L318.92,307.6 L319.75,308.2 L320.59,307.42 L321.42,307.29 L322.25,307.5 L323.08,307.19 L323.92,308.03 L324.75,306.78 L325.58,307.45 L326.42,306.25 L327.25,306.84 L328.08,306.06 L328.92,304.32 L329.75,304.69 L330.58,303.05 L331.41,301.73 L332.25,300.4 L333.08,296.05 L333.91,291.71 L334.75,286.77 L335.58,247.7 L336.41,286.82 L337.25,292.35 L338.08,296.16 L338.91,299.66 L339.74,302.5 L340.58,303.97 L341.41,304.69 L342.24,305.54 L343.08,306.05 L343.91,306.26 L344.74,307.72 L345.58,307.05 L346.41,306.68 L347.24,307.09 L348.07,307.73 L348.91,307.74 L349.74,307.42 L350.57,307.2 L351.41,307.53 L352.24,306.75 L353.07,306.92 L353.91,307.88 L354.74,307.26 L355.57,307.62 L356.4,307.95 L357.24,307.61 L358.07,307.21 L358.9,308.03 L359.74,307.14 L360.57,306.36 L361.4,306.44 L362.24,305.7 L363.07,304.29 L363.9,303.57 L364.73,301.86 L365.57,298.78 L366.4,296.48 L367.23,292.07 L368.07,285.9 L368.9,267.8 L369.73,285.94 L370.57,292.18 L371.4,296.61 L372.23,299.17 L373.06,302.23 L373.9,302.98 L374.73,304.59 L375.56,306.12 L376.4,305.79 L377.23,306.29 L378.06,307.33 L378.9,306.87 L379.73,307.07 L380.56,307.42 L381.39,307.88 L382.23,306.43 L383.06,307.1 L383.89,307.04 L384.73,307.02 L385.56,307.13 L386.39,307.13 L387.23,307.65 L388.06,307.07 L388.89,307.5 L389.72,307.58 L390.56,306.98 L391.39,307.26 L392.22,307.8 L393.06,306.98 L393.89,306.23 L394.72,306.08 L395.56,305.09 L396.39,304.82 L397.22,303.94 L398.05,301.56 L398.89,299.6 L399.72,297.08 L400.55,291.97 L401.39,286.19 L402.22,247 L403.05,285.73 L403.89,291.96 L404.72,297.54 L405.55,299.51 L406.38,301.69 L407.22,303.29 L408.05,304.62 L408.88,305.81 L409.72,306.19 L410.55,307.45 L411.38,306.93 L412.22,307.7 L413.05,307.33 L413.88,307.59 L414.71,306.74 L415.55,307.39 L416.38,307.45 L417.21,307.4 L418.05,306.55 L418.88,307.92 L419.71,307.35 L420.55,307.31 L421.38,307.37 L422.21,307.34 L423.04,307.57 L423.88,306.74 L424.71,306.78 L425.54,307.18 L426.38,306.9 L427.21,306.36 L428.04,305.85 L428.88,305.14 L429.71,304.66 L430.54,304.07 L431.37,301.46 L432.21,300.38 L433.04,296.94 L433.87,291.99 L434.71,286.46 L435.54,250.2 L436.37,285.32 L437.21,291.62 L438.04,296.38 L438.87,299.55 L439.7,301.7 L440.54,303.58 L441.37,303.73 L442.2,305.74 L443.04,305.47 L443.87,306.23 L444.7,306.65 L445.54,306.53 L446.37,306.59 L447.2,306.87 L448.03,307.39 L448.87,307.72 L449.7,307.75 L450.53,307.08 L451.37,307.19 L452.2,307.15" fill="none" stroke="#1a741a" stroke-width="1.2"/>
<g fill="none" stroke="#1a741a" stroke-width="1.05"><circle cx="285.6" cy="307.01" r="1.7"/><circle cx="286.43" cy="308.29" r="1.7"/><circle cx="287.27" cy="307.75" r="1.7"/><circle cx="288.1" cy="308.3" r="1.7"/><circle cx="288.93" cy="307.81" r="1.7"/><circle cx="289.76" cy="308.07" r="1.7"/><circle cx="290.6" cy="307.21" r="1.7"/><circle cx="291.43" cy="307.53" r="1.7"/><circle cx="292.26" cy="308.27" r="1.7"/><circle cx="293.1" cy="306.28" r="1.7"/><circle cx="293.93" cy="307.06" r="1.7"/><circle cx="294.76" cy="306.87" r="1.7"/><circle cx="295.6" cy="305.71" r="1.7"/><circle cx="296.43" cy="305.04" r="1.7"/><circle cx="297.26" cy="304.12" r="1.7"/><circle cx="298.09" cy="301.63" r="1.7"/><circle cx="298.93" cy="299.88" r="1.7"/><circle cx="299.76" cy="296.16" r="1.7"/><circle cx="305.59" cy="300.6" r="1.7"/><circle cx="306.42" cy="302.47" r="1.7"/><circle cx="307.26" cy="303.87" r="1.7"/><circle cx="308.09" cy="304.53" r="1.7"/><circle cx="308.92" cy="305.47" r="1.7"/><circle cx="309.76" cy="306.36" r="1.7"/><circle cx="310.59" cy="306.72" r="1.7"/><circle cx="311.42" cy="306.06" r="1.7"/><circle cx="312.26" cy="307.39" r="1.7"/><circle cx="313.09" cy="308.55" r="1.7"/><circle cx="313.92" cy="306.46" r="1.7"/><circle cx="314.75" cy="307.85" r="1.7"/><circle cx="315.59" cy="307.62" r="1.7"/><circle cx="316.42" cy="307.43" r="1.7"/><circle cx="317.25" cy="308.14" r="1.7"/><circle cx="318.09" cy="306.97" r="1.7"/><circle cx="318.92" cy="307.6" r="1.7"/><circle cx="319.75" cy="308.2" r="1.7"/><circle cx="320.59" cy="307.42" r="1.7"/><circle cx="321.42" cy="307.29" r="1.7"/><circle cx="322.25" cy="307.5" r="1.7"/><circle cx="323.08" cy="307.19" r="1.7"/><circle cx="323.92" cy="308.03" r="1.7"/><circle cx="324.75" cy="306.78" r="1.7"/><circle cx="325.58" cy="307.45" r="1.7"/><circle cx="326.42" cy="306.25" r="1.7"/><circle cx="327.25" cy="306.84" r="1.7"/><circle cx="328.08" cy="306.06" r="1.7"/><circle cx="328.92" cy="304.32" r="1.7"/><circle cx="329.75" cy="304.69" r="1.7"/><circle cx="330.58" cy="303.05" r="1.7"/><circle cx="331.41" cy="301.73" r="1.7"/><circle cx="332.25" cy="300.4" r="1.7"/><circle cx="333.08" cy="296.05" r="1.7"/><circle cx="338.08" cy="296.16" r="1.7"/><circle cx="338.91" cy="299.66" r="1.7"/><circle cx="339.74" cy="302.5" r="1.7"/><circle cx="340.58" cy="303.97" r="1.7"/><circle cx="341.41" cy="304.69" r="1.7"/><circle cx="342.24" cy="305.54" r="1.7"/><circle cx="343.08" cy="306.05" r="1.7"/><circle cx="343.91" cy="306.26" r="1.7"/><circle cx="344.74" cy="307.72" r="1.7"/><circle cx="345.58" cy="307.05" r="1.7"/><circle cx="346.41" cy="306.68" r="1.7"/><circle cx="347.24" cy="307.09" r="1.7"/><circle cx="348.07" cy="307.73" r="1.7"/><circle cx="348.91" cy="307.74" r="1.7"/><circle cx="349.74" cy="307.42" r="1.7"/><circle cx="350.57" cy="307.2" r="1.7"/><circle cx="351.41" cy="307.53" r="1.7"/><circle cx="352.24" cy="306.75" r="1.7"/><circle cx="353.07" cy="306.92" r="1.7"/><circle cx="353.91" cy="307.88" r="1.7"/><circle cx="354.74" cy="307.26" r="1.7"/><circle cx="355.57" cy="307.62" r="1.7"/><circle cx="356.4" cy="307.95" r="1.7"/><circle cx="357.24" cy="307.61" r="1.7"/><circle cx="358.07" cy="307.21" r="1.7"/><circle cx="358.9" cy="308.03" r="1.7"/><circle cx="359.74" cy="307.14" r="1.7"/><circle cx="360.57" cy="306.36" r="1.7"/><circle cx="361.4" cy="306.44" r="1.7"/><circle cx="362.24" cy="305.7" r="1.7"/><circle cx="363.07" cy="304.29" r="1.7"/><circle cx="363.9" cy="303.57" r="1.7"/><circle cx="364.73" cy="301.86" r="1.7"/><circle cx="365.57" cy="298.78" r="1.7"/><circle cx="366.4" cy="296.48" r="1.7"/><circle cx="371.4" cy="296.61" r="1.7"/><circle cx="372.23" cy="299.17" r="1.7"/><circle cx="373.06" cy="302.23" r="1.7"/><circle cx="373.9" cy="302.98" r="1.7"/><circle cx="374.73" cy="304.59" r="1.7"/><circle cx="375.56" cy="306.12" r="1.7"/><circle cx="376.4" cy="305.79" r="1.7"/><circle cx="377.23" cy="306.29" r="1.7"/><circle cx="378.06" cy="307.33" r="1.7"/><circle cx="378.9" cy="306.87" r="1.7"/><circle cx="379.73" cy="307.07" r="1.7"/><circle cx="380.56" cy="307.42" r="1.7"/><circle cx="381.39" cy="307.88" r="1.7"/><circle cx="382.23" cy="306.43" r="1.7"/><circle cx="383.06" cy="307.1" r="1.7"/><circle cx="383.89" cy="307.04" r="1.7"/><circle cx="384.73" cy="307.02" r="1.7"/><circle cx="385.56" cy="307.13" r="1.7"/><circle cx="386.39" cy="307.13" r="1.7"/><circle cx="387.23" cy="307.65" r="1.7"/><circle cx="388.06" cy="307.07" r="1.7"/><circle cx="388.89" cy="307.5" r="1.7"/><circle cx="389.72" cy="307.58" r="1.7"/><circle cx="390.56" cy="306.98" r="1.7"/><circle cx="391.39" cy="307.26" r="1.7"/><circle cx="392.22" cy="307.8" r="1.7"/><circle cx="393.06" cy="306.98" r="1.7"/><circle cx="393.89" cy="306.23" r="1.7"/><circle cx="394.72" cy="306.08" r="1.7"/><circle cx="395.56" cy="305.09" r="1.7"/><circle cx="396.39" cy="304.82" r="1.7"/><circle cx="397.22" cy="303.94" r="1.7"/><circle cx="398.05" cy="301.56" r="1.7"/><circle cx="398.89" cy="299.6" r="1.7"/><circle cx="399.72" cy="297.08" r="1.7"/><circle cx="404.72" cy="297.54" r="1.7"/><circle cx="405.55" cy="299.51" r="1.7"/><circle cx="406.38" cy="301.69" r="1.7"/><circle cx="407.22" cy="303.29" r="1.7"/><circle cx="408.05" cy="304.62" r="1.7"/><circle cx="408.88" cy="305.81" r="1.7"/><circle cx="409.72" cy="306.19" r="1.7"/><circle cx="410.55" cy="307.45" r="1.7"/><circle cx="411.38" cy="306.93" r="1.7"/><circle cx="412.22" cy="307.7" r="1.7"/><circle cx="413.05" cy="307.33" r="1.7"/><circle cx="413.88" cy="307.59" r="1.7"/><circle cx="414.71" cy="306.74" r="1.7"/><circle cx="415.55" cy="307.39" r="1.7"/><circle cx="416.38" cy="307.45" r="1.7"/><circle cx="417.21" cy="307.4" r="1.7"/><circle cx="418.05" cy="306.55" r="1.7"/><circle cx="418.88" cy="307.92" r="1.7"/><circle cx="419.71" cy="307.35" r="1.7"/><circle cx="420.55" cy="307.31" r="1.7"/><circle cx="421.38" cy="307.37" r="1.7"/><circle cx="422.21" cy="307.34" r="1.7"/><circle cx="423.04" cy="307.57" r="1.7"/><circle cx="423.88" cy="306.74" r="1.7"/><circle cx="424.71" cy="306.78" r="1.7"/><circle cx="425.54" cy="307.18" r="1.7"/><circle cx="426.38" cy="306.9" r="1.7"/><circle cx="427.21" cy="306.36" r="1.7"/><circle cx="428.04" cy="305.85" r="1.7"/><circle cx="428.88" cy="305.14" r="1.7"/><circle cx="429.71" cy="304.66" r="1.7"/><circle cx="430.54" cy="304.07" r="1.7"/><circle cx="431.37" cy="301.46" r="1.7"/><circle cx="432.21" cy="300.38" r="1.7"/><circle cx="433.04" cy="296.94" r="1.7"/><circle cx="438.04" cy="296.38" r="1.7"/><circle cx="438.87" cy="299.55" r="1.7"/><circle cx="439.7" cy="301.7" r="1.7"/><circle cx="440.54" cy="303.58" r="1.7"/><circle cx="441.37" cy="303.73" r="1.7"/><circle cx="442.2" cy="305.74" r="1.7"/><circle cx="443.04" cy="305.47" r="1.7"/><circle cx="443.87" cy="306.23" r="1.7"/><circle cx="444.7" cy="306.65" r="1.7"/><circle cx="445.54" cy="306.53" r="1.7"/><circle cx="446.37" cy="306.59" r="1.7"/><circle cx="447.2" cy="306.87" r="1.7"/><circle cx="448.03" cy="307.39" r="1.7"/><circle cx="448.87" cy="307.72" r="1.7"/><circle cx="449.7" cy="307.75" r="1.7"/><circle cx="450.53" cy="307.08" r="1.7"/><circle cx="451.37" cy="307.19" r="1.7"/><circle cx="452.2" cy="307.15" r="1.7"/></g>
<g fill="#fff" stroke="#1a741a" stroke-width="1.05"><circle cx="300.59" cy="291.89" r="1.7"/><circle cx="301.43" cy="285.82" r="1.7"/><circle cx="302.26" cy="248.5" r="1.7"/><circle cx="303.09" cy="286.17" r="1.7"/><circle cx="303.93" cy="292.41" r="1.7"/><circle cx="304.76" cy="295.91" r="1.7"/><circle cx="333.91" cy="291.71" r="1.7"/><circle cx="334.75" cy="286.77" r="1.7"/><circle cx="335.58" cy="247.7" r="1.7"/><circle cx="336.41" cy="286.82" r="1.7"/><circle cx="337.25" cy="292.35" r="1.7"/><circle cx="367.23" cy="292.07" r="1.7"/><circle cx="368.07" cy="285.9" r="1.7"/><circle cx="368.9" cy="267.8" r="1.7"/><circle cx="369.73" cy="285.94" r="1.7"/><circle cx="370.57" cy="292.18" r="1.7"/><circle cx="400.55" cy="291.97" r="1.7"/><circle cx="401.39" cy="286.19" r="1.7"/><circle cx="402.22" cy="247" r="1.7"/><circle cx="403.05" cy="285.73" r="1.7"/><circle cx="403.89" cy="291.96" r="1.7"/><circle cx="433.87" cy="291.99" r="1.7"/><circle cx="434.71" cy="286.46" r="1.7"/><circle cx="435.54" cy="250.2" r="1.7"/><circle cx="436.37" cy="285.32" r="1.7"/><circle cx="437.21" cy="291.62" r="1.7"/><circle cx="302.26" cy="251.8" r="1.7"/><circle cx="402.22" cy="250.3" r="1.7"/></g>
<path d="M285.6,354.38 L286.43,350.52 L287.27,355.27 L288.1,352.51 L288.93,351.85 L289.76,353.28 L290.6,354.02 L291.43,352.64 L292.26,353.27 L293.1,351.37 L293.93,352.37 L294.76,351.6 L295.6,348.57 L296.43,349.61 L297.26,346.08 L298.09,343.91 L298.93,339.85 L299.76,337.75 L300.59,335.9 L301.43,329.09 L302.26,327.78 L303.09,331.55 L303.93,335.08 L304.76,334.76 L305.59,340.94 L306.42,344.58 L307.26,344.47 L308.09,347.33 L308.92,344.85 L309.76,350.39 L310.59,349.14 L311.42,352.03 L312.26,348.43 L313.09,352.6 L313.92,351.5 L314.75,353.29 L315.59,350.86 L316.42,351.45 L317.25,355.83 L318.09,351.27 L318.92,351.47 L319.75,352.1 L320.59,350.93 L321.42,354.16 L322.25,354.83 L323.08,351.01 L323.92,349.25 L324.75,353.31 L325.58,352.84 L326.42,351.95 L327.25,351.86 L328.08,348.07 L328.92,348.16 L329.75,345.1 L330.58,343.48 L331.41,345.07 L332.25,340.08 L333.08,341.49 L333.91,334.78 L334.75,330.07 L335.58,328.01 L336.41,333.78 L337.25,335.49 L338.08,336.39 L338.91,341.84 L339.74,345.9 L340.58,345.16 L341.41,346.37 L342.24,350.35 L343.08,350.05 L343.91,349.01 L344.74,350.75 L345.58,350.73 L346.41,352.76 L347.24,352.85 L348.07,354.73 L348.91,354.35 L349.74,351.17 L350.57,354.34 L351.41,355.26 L352.24,354.76 L353.07,355.77 L353.91,353.53 L354.74,353.05 L355.57,355.98 L356.4,353.08 L357.24,351.53 L358.07,356.39 L358.9,353.84 L359.74,354.54 L360.57,352.96 L361.4,353.13 L362.24,353.43 L363.07,354.67 L363.9,355.8 L364.73,351.83 L365.57,356.43 L366.4,353.55 L367.23,353.74 L368.07,356.37 L368.9,355.24 L369.73,353.04 L370.57,358.11 L371.4,354.03 L372.23,355.68 L373.06,355.58 L373.9,357.36 L374.73,354.53 L375.56,356.68 L376.4,354 L377.23,356.74 L378.06,353.85 L378.9,354.39 L379.73,357.7 L380.56,355.25 L381.39,354.85 L382.23,357.94 L383.06,355.02 L383.89,353.13 L384.73,355.32 L385.56,352.3 L386.39,355.6 L387.23,355.54 L388.06,352.66 L388.89,352.34 L389.72,353.27 L390.56,352.71 L391.39,350.85 L392.22,352.72 L393.06,348.26 L393.89,350.01 L394.72,349.24 L395.56,348.41 L396.39,347.99 L397.22,344.06 L398.05,344.72 L398.89,341.01 L399.72,337.24 L400.55,332.71 L401.39,329.3 L402.22,327.36 L403.05,329.58 L403.89,334.76 L404.72,339.67 L405.55,342.64 L406.38,345.94 L407.22,345.16 L408.05,345.55 L408.88,349.94 L409.72,349.83 L410.55,351.81 L411.38,350.73 L412.22,352.98 L413.05,352.82 L413.88,352.92 L414.71,352.83 L415.55,352.84 L416.38,352.72 L417.21,352.8 L418.05,354 L418.88,351.76 L419.71,355.12 L420.55,352.31 L421.38,353.86 L422.21,352.12 L423.04,351.71 L423.88,354.9 L424.71,351.1 L425.54,349.28 L426.38,349.66 L427.21,349.66 L428.04,352.61 L428.88,348.73 L429.71,348.59 L430.54,344.11 L431.37,344.13 L432.21,342.1 L433.04,340.78 L433.87,333.62 L434.71,331.93 L435.54,327.26 L436.37,329.52 L437.21,334.71 L438.04,337.79 L438.87,337.75 L439.7,344.68 L440.54,346.64 L441.37,346.79 L442.2,346.72 L443.04,351.95 L443.87,350.93 L444.7,352.7 L445.54,353.81 L446.37,351.34 L447.2,353.69 L448.03,352.41 L448.87,352.93 L449.7,353.11 L450.53,353.41 L451.37,355.24 L452.2,353.89" fill="none" stroke="#a87a1e" stroke-width="0.9"/>
<g fill="none" stroke="#a87a1e" stroke-width="0.8"><circle cx="285.6" cy="354.38" r="2"/><circle cx="286.43" cy="350.52" r="2"/><circle cx="287.27" cy="355.27" r="2"/><circle cx="288.1" cy="352.51" r="2"/><circle cx="288.93" cy="351.85" r="2"/><circle cx="289.76" cy="353.28" r="2"/><circle cx="290.6" cy="354.02" r="2"/><circle cx="291.43" cy="352.64" r="2"/><circle cx="292.26" cy="353.27" r="2"/><circle cx="293.1" cy="351.37" r="2"/><circle cx="293.93" cy="352.37" r="2"/><circle cx="294.76" cy="351.6" r="2"/><circle cx="295.6" cy="348.57" r="2"/><circle cx="296.43" cy="349.61" r="2"/><circle cx="297.26" cy="346.08" r="2"/><circle cx="298.09" cy="343.91" r="2"/><circle cx="298.93" cy="339.85" r="2"/><circle cx="299.76" cy="337.75" r="2"/><circle cx="300.59" cy="335.9" r="2"/><circle cx="301.43" cy="329.09" r="2"/><circle cx="302.26" cy="327.78" r="2"/><circle cx="303.09" cy="331.55" r="2"/><circle cx="303.93" cy="335.08" r="2"/><circle cx="304.76" cy="334.76" r="2"/><circle cx="305.59" cy="340.94" r="2"/><circle cx="306.42" cy="344.58" r="2"/><circle cx="307.26" cy="344.47" r="2"/><circle cx="308.09" cy="347.33" r="2"/><circle cx="308.92" cy="344.85" r="2"/><circle cx="309.76" cy="350.39" r="2"/><circle cx="310.59" cy="349.14" r="2"/><circle cx="311.42" cy="352.03" r="2"/><circle cx="312.26" cy="348.43" r="2"/><circle cx="313.09" cy="352.6" r="2"/><circle cx="313.92" cy="351.5" r="2"/><circle cx="314.75" cy="353.29" r="2"/><circle cx="315.59" cy="350.86" r="2"/><circle cx="316.42" cy="351.45" r="2"/><circle cx="317.25" cy="355.83" r="2"/><circle cx="318.09" cy="351.27" r="2"/><circle cx="318.92" cy="351.47" r="2"/><circle cx="319.75" cy="352.1" r="2"/><circle cx="320.59" cy="350.93" r="2"/><circle cx="321.42" cy="354.16" r="2"/><circle cx="322.25" cy="354.83" r="2"/><circle cx="323.08" cy="351.01" r="2"/><circle cx="323.92" cy="349.25" r="2"/><circle cx="324.75" cy="353.31" r="2"/><circle cx="325.58" cy="352.84" r="2"/><circle cx="326.42" cy="351.95" r="2"/><circle cx="327.25" cy="351.86" r="2"/><circle cx="328.08" cy="348.07" r="2"/><circle cx="328.92" cy="348.16" r="2"/><circle cx="329.75" cy="345.1" r="2"/><circle cx="330.58" cy="343.48" r="2"/><circle cx="331.41" cy="345.07" r="2"/><circle cx="332.25" cy="340.08" r="2"/><circle cx="333.08" cy="341.49" r="2"/><circle cx="333.91" cy="334.78" r="2"/><circle cx="334.75" cy="330.07" r="2"/><circle cx="335.58" cy="328.01" r="2"/><circle cx="336.41" cy="333.78" r="2"/><circle cx="337.25" cy="335.49" r="2"/><circle cx="338.08" cy="336.39" r="2"/><circle cx="338.91" cy="341.84" r="2"/><circle cx="339.74" cy="345.9" r="2"/><circle cx="340.58" cy="345.16" r="2"/><circle cx="341.41" cy="346.37" r="2"/><circle cx="342.24" cy="350.35" r="2"/><circle cx="343.08" cy="350.05" r="2"/><circle cx="343.91" cy="349.01" r="2"/><circle cx="344.74" cy="350.75" r="2"/><circle cx="345.58" cy="350.73" r="2"/><circle cx="346.41" cy="352.76" r="2"/><circle cx="347.24" cy="352.85" r="2"/><circle cx="348.07" cy="354.73" r="2"/><circle cx="348.91" cy="354.35" r="2"/><circle cx="349.74" cy="351.17" r="2"/><circle cx="350.57" cy="354.34" r="2"/><circle cx="351.41" cy="355.26" r="2"/><circle cx="352.24" cy="354.76" r="2"/><circle cx="353.07" cy="355.77" r="2"/><circle cx="353.91" cy="353.53" r="2"/><circle cx="354.74" cy="353.05" r="2"/><circle cx="355.57" cy="355.98" r="2"/><circle cx="356.4" cy="353.08" r="2"/><circle cx="357.24" cy="351.53" r="2"/><circle cx="358.07" cy="356.39" r="2"/><circle cx="358.9" cy="353.84" r="2"/><circle cx="359.74" cy="354.54" r="2"/><circle cx="360.57" cy="352.96" r="2"/><circle cx="361.4" cy="353.13" r="2"/><circle cx="362.24" cy="353.43" r="2"/><circle cx="363.07" cy="354.67" r="2"/><circle cx="363.9" cy="355.8" r="2"/><circle cx="364.73" cy="351.83" r="2"/><circle cx="365.57" cy="356.43" r="2"/><circle cx="366.4" cy="353.55" r="2"/><circle cx="367.23" cy="353.74" r="2"/><circle cx="368.07" cy="356.37" r="2"/><circle cx="368.9" cy="355.24" r="2"/><circle cx="369.73" cy="353.04" r="2"/><circle cx="370.57" cy="358.11" r="2"/><circle cx="371.4" cy="354.03" r="2"/><circle cx="372.23" cy="355.68" r="2"/><circle cx="373.06" cy="355.58" r="2"/><circle cx="373.9" cy="357.36" r="2"/><circle cx="374.73" cy="354.53" r="2"/><circle cx="375.56" cy="356.68" r="2"/><circle cx="376.4" cy="354" r="2"/><circle cx="377.23" cy="356.74" r="2"/><circle cx="378.06" cy="353.85" r="2"/><circle cx="378.9" cy="354.39" r="2"/><circle cx="379.73" cy="357.7" r="2"/><circle cx="380.56" cy="355.25" r="2"/><circle cx="381.39" cy="354.85" r="2"/><circle cx="382.23" cy="357.94" r="2"/><circle cx="383.06" cy="355.02" r="2"/><circle cx="383.89" cy="353.13" r="2"/><circle cx="384.73" cy="355.32" r="2"/><circle cx="385.56" cy="352.3" r="2"/><circle cx="386.39" cy="355.6" r="2"/><circle cx="387.23" cy="355.54" r="2"/><circle cx="388.06" cy="352.66" r="2"/><circle cx="388.89" cy="352.34" r="2"/><circle cx="389.72" cy="353.27" r="2"/><circle cx="390.56" cy="352.71" r="2"/><circle cx="391.39" cy="350.85" r="2"/><circle cx="392.22" cy="352.72" r="2"/><circle cx="393.06" cy="348.26" r="2"/><circle cx="393.89" cy="350.01" r="2"/><circle cx="394.72" cy="349.24" r="2"/><circle cx="395.56" cy="348.41" r="2"/><circle cx="396.39" cy="347.99" r="2"/><circle cx="397.22" cy="344.06" r="2"/><circle cx="398.05" cy="344.72" r="2"/><circle cx="398.89" cy="341.01" r="2"/><circle cx="399.72" cy="337.24" r="2"/><circle cx="400.55" cy="332.71" r="2"/><circle cx="401.39" cy="329.3" r="2"/><circle cx="402.22" cy="327.36" r="2"/><circle cx="403.05" cy="329.58" r="2"/><circle cx="403.89" cy="334.76" r="2"/><circle cx="404.72" cy="339.67" r="2"/><circle cx="405.55" cy="342.64" r="2"/><circle cx="406.38" cy="345.94" r="2"/><circle cx="407.22" cy="345.16" r="2"/><circle cx="408.05" cy="345.55" r="2"/><circle cx="408.88" cy="349.94" r="2"/><circle cx="409.72" cy="349.83" r="2"/><circle cx="410.55" cy="351.81" r="2"/><circle cx="411.38" cy="350.73" r="2"/><circle cx="412.22" cy="352.98" r="2"/><circle cx="413.05" cy="352.82" r="2"/><circle cx="413.88" cy="352.92" r="2"/><circle cx="414.71" cy="352.83" r="2"/><circle cx="415.55" cy="352.84" r="2"/><circle cx="416.38" cy="352.72" r="2"/><circle cx="417.21" cy="352.8" r="2"/><circle cx="418.05" cy="354" r="2"/><circle cx="418.88" cy="351.76" r="2"/><circle cx="419.71" cy="355.12" r="2"/><circle cx="420.55" cy="352.31" r="2"/><circle cx="421.38" cy="353.86" r="2"/><circle cx="422.21" cy="352.12" r="2"/><circle cx="423.04" cy="351.71" r="2"/><circle cx="423.88" cy="354.9" r="2"/><circle cx="424.71" cy="351.1" r="2"/><circle cx="425.54" cy="349.28" r="2"/><circle cx="426.38" cy="349.66" r="2"/><circle cx="427.21" cy="349.66" r="2"/><circle cx="428.04" cy="352.61" r="2"/><circle cx="428.88" cy="348.73" r="2"/><circle cx="429.71" cy="348.59" r="2"/><circle cx="430.54" cy="344.11" r="2"/><circle cx="431.37" cy="344.13" r="2"/><circle cx="432.21" cy="342.1" r="2"/><circle cx="433.04" cy="340.78" r="2"/><circle cx="433.87" cy="333.62" r="2"/><circle cx="434.71" cy="331.93" r="2"/><circle cx="435.54" cy="327.26" r="2"/><circle cx="436.37" cy="329.52" r="2"/><circle cx="437.21" cy="334.71" r="2"/><circle cx="438.04" cy="337.79" r="2"/><circle cx="438.87" cy="337.75" r="2"/><circle cx="439.7" cy="344.68" r="2"/><circle cx="440.54" cy="346.64" r="2"/><circle cx="441.37" cy="346.79" r="2"/><circle cx="442.2" cy="346.72" r="2"/><circle cx="443.04" cy="351.95" r="2"/><circle cx="443.87" cy="350.93" r="2"/><circle cx="444.7" cy="352.7" r="2"/><circle cx="445.54" cy="353.81" r="2"/><circle cx="446.37" cy="351.34" r="2"/><circle cx="447.2" cy="353.69" r="2"/><circle cx="448.03" cy="352.41" r="2"/><circle cx="448.87" cy="352.93" r="2"/><circle cx="449.7" cy="353.11" r="2"/><circle cx="450.53" cy="353.41" r="2"/><circle cx="451.37" cy="355.24" r="2"/><circle cx="452.2" cy="353.89" r="2"/></g>
</svg>
</body></html>
